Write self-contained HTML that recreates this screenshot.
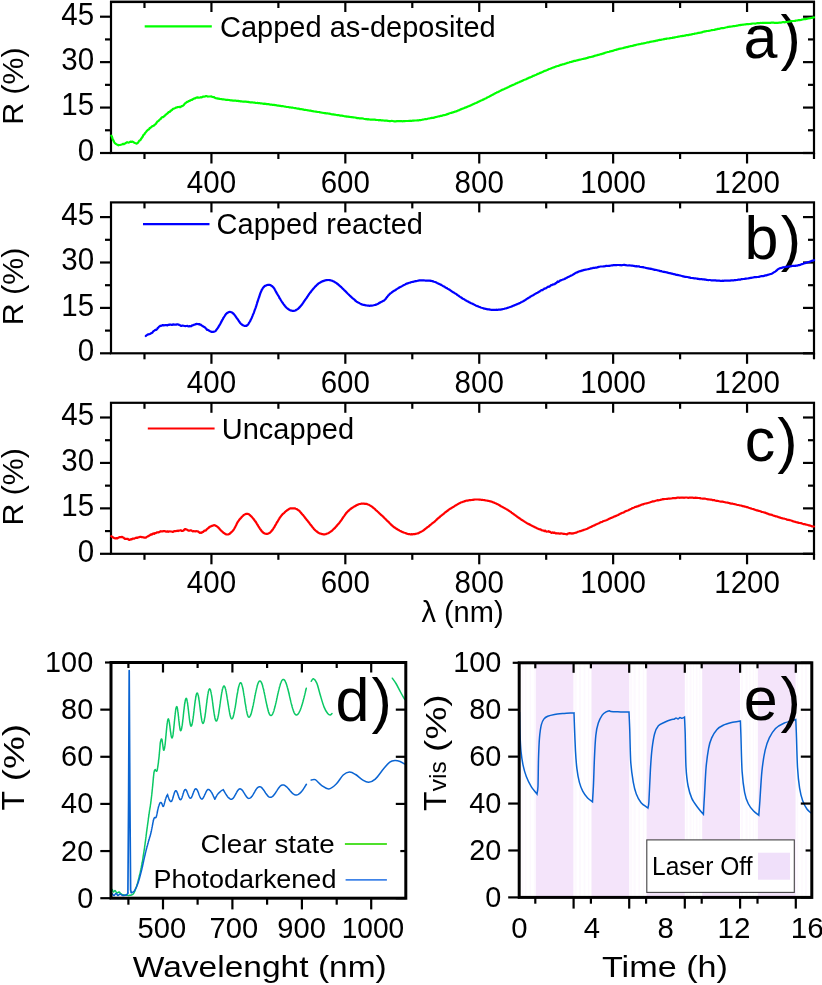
<!DOCTYPE html>
<html><head><meta charset="utf-8"><title>Figure</title>
<style>
html,body{margin:0;padding:0;background:#fff;}
body{width:822px;height:985px;overflow:hidden;}
svg{display:block;will-change:transform;}
text{font-family:"Liberation Sans",sans-serif;fill:#000;}
</style></head><body>
<svg width="822" height="985" viewBox="0 0 822 985">
<rect x="0" y="0" width="822" height="985" fill="#fff"/>
<rect x="110" y="0" width="705" height="1" fill="#a8a8a8"/>
<rect x="111.00" y="2.00" width="703.00" height="151.00" fill="none" stroke="#000" stroke-width="2.20"/>
<line x1="100.00" y1="153.00" x2="111.00" y2="153.00" stroke="#000" stroke-width="2.20" stroke-linecap="butt"/>
<line x1="803.00" y1="153.00" x2="814.00" y2="153.00" stroke="#000" stroke-width="2.20" stroke-linecap="butt"/>
<text transform="translate(94.20 160.80) scale(0.962 1)" font-size="30.68px" text-anchor="end">0</text>
<line x1="100.00" y1="107.57" x2="111.00" y2="107.57" stroke="#000" stroke-width="2.20" stroke-linecap="butt"/>
<line x1="803.00" y1="107.57" x2="814.00" y2="107.57" stroke="#000" stroke-width="2.20" stroke-linecap="butt"/>
<text transform="translate(94.20 115.37) scale(0.962 1)" font-size="30.68px" text-anchor="end">15</text>
<line x1="100.00" y1="62.13" x2="111.00" y2="62.13" stroke="#000" stroke-width="2.20" stroke-linecap="butt"/>
<line x1="803.00" y1="62.13" x2="814.00" y2="62.13" stroke="#000" stroke-width="2.20" stroke-linecap="butt"/>
<text transform="translate(94.20 69.93) scale(0.962 1)" font-size="30.68px" text-anchor="end">30</text>
<line x1="100.00" y1="16.70" x2="111.00" y2="16.70" stroke="#000" stroke-width="2.20" stroke-linecap="butt"/>
<line x1="803.00" y1="16.70" x2="814.00" y2="16.70" stroke="#000" stroke-width="2.20" stroke-linecap="butt"/>
<text transform="translate(94.20 24.50) scale(0.962 1)" font-size="30.68px" text-anchor="end">45</text>
<line x1="105.00" y1="130.28" x2="111.00" y2="130.28" stroke="#000" stroke-width="2.20" stroke-linecap="butt"/>
<line x1="808.00" y1="130.28" x2="814.00" y2="130.28" stroke="#000" stroke-width="2.20" stroke-linecap="butt"/>
<line x1="105.00" y1="84.85" x2="111.00" y2="84.85" stroke="#000" stroke-width="2.20" stroke-linecap="butt"/>
<line x1="808.00" y1="84.85" x2="814.00" y2="84.85" stroke="#000" stroke-width="2.20" stroke-linecap="butt"/>
<line x1="105.00" y1="39.42" x2="111.00" y2="39.42" stroke="#000" stroke-width="2.20" stroke-linecap="butt"/>
<line x1="808.00" y1="39.42" x2="814.00" y2="39.42" stroke="#000" stroke-width="2.20" stroke-linecap="butt"/>
<line x1="211.43" y1="153.00" x2="211.43" y2="163.50" stroke="#000" stroke-width="2.20" stroke-linecap="butt"/>
<line x1="211.43" y1="2.00" x2="211.43" y2="12.00" stroke="#000" stroke-width="2.20" stroke-linecap="butt"/>
<text transform="translate(211.43 192.50) scale(0.962 1)" font-size="30.68px" text-anchor="middle">400</text>
<line x1="345.33" y1="153.00" x2="345.33" y2="163.50" stroke="#000" stroke-width="2.20" stroke-linecap="butt"/>
<line x1="345.33" y1="2.00" x2="345.33" y2="12.00" stroke="#000" stroke-width="2.20" stroke-linecap="butt"/>
<text transform="translate(345.33 192.50) scale(0.962 1)" font-size="30.68px" text-anchor="middle">600</text>
<line x1="479.24" y1="153.00" x2="479.24" y2="163.50" stroke="#000" stroke-width="2.20" stroke-linecap="butt"/>
<line x1="479.24" y1="2.00" x2="479.24" y2="12.00" stroke="#000" stroke-width="2.20" stroke-linecap="butt"/>
<text transform="translate(479.24 192.50) scale(0.962 1)" font-size="30.68px" text-anchor="middle">800</text>
<line x1="613.14" y1="153.00" x2="613.14" y2="163.50" stroke="#000" stroke-width="2.20" stroke-linecap="butt"/>
<line x1="613.14" y1="2.00" x2="613.14" y2="12.00" stroke="#000" stroke-width="2.20" stroke-linecap="butt"/>
<text transform="translate(613.14 192.50) scale(0.962 1)" font-size="30.68px" text-anchor="middle">1000</text>
<line x1="747.05" y1="153.00" x2="747.05" y2="163.50" stroke="#000" stroke-width="2.20" stroke-linecap="butt"/>
<line x1="747.05" y1="2.00" x2="747.05" y2="12.00" stroke="#000" stroke-width="2.20" stroke-linecap="butt"/>
<text transform="translate(747.05 192.50) scale(0.962 1)" font-size="30.68px" text-anchor="middle">1200</text>
<line x1="144.48" y1="153.00" x2="144.48" y2="159.00" stroke="#000" stroke-width="2.20" stroke-linecap="butt"/>
<line x1="144.48" y1="2.00" x2="144.48" y2="8.00" stroke="#000" stroke-width="2.20" stroke-linecap="butt"/>
<line x1="278.38" y1="153.00" x2="278.38" y2="159.00" stroke="#000" stroke-width="2.20" stroke-linecap="butt"/>
<line x1="278.38" y1="2.00" x2="278.38" y2="8.00" stroke="#000" stroke-width="2.20" stroke-linecap="butt"/>
<line x1="412.29" y1="153.00" x2="412.29" y2="159.00" stroke="#000" stroke-width="2.20" stroke-linecap="butt"/>
<line x1="412.29" y1="2.00" x2="412.29" y2="8.00" stroke="#000" stroke-width="2.20" stroke-linecap="butt"/>
<line x1="546.19" y1="153.00" x2="546.19" y2="159.00" stroke="#000" stroke-width="2.20" stroke-linecap="butt"/>
<line x1="546.19" y1="2.00" x2="546.19" y2="8.00" stroke="#000" stroke-width="2.20" stroke-linecap="butt"/>
<line x1="680.10" y1="153.00" x2="680.10" y2="159.00" stroke="#000" stroke-width="2.20" stroke-linecap="butt"/>
<line x1="680.10" y1="2.00" x2="680.10" y2="8.00" stroke="#000" stroke-width="2.20" stroke-linecap="butt"/>
<line x1="814.00" y1="153.00" x2="814.00" y2="159.00" stroke="#000" stroke-width="2.20" stroke-linecap="butt"/>
<text transform="translate(22.5 86.10) rotate(-90)" font-size="30.30px" text-anchor="middle">R (%)</text>
<line x1="144.70" y1="26.30" x2="211.80" y2="26.30" stroke="#00ff00" stroke-width="2.20" stroke-linecap="butt"/>
<text x="220.00" y="36.50" font-size="29.00px" text-anchor="start" >Capped as-deposited</text>
<text x="743.40" y="57.80" font-size="61.00px" text-anchor="start" >a</text>
<text x="780.40" y="57.80" font-size="61.00px" text-anchor="start" >)</text>
<path d="M111.3 135.6L111.5 135.9L111.8 136.6L112.2 137.4L112.5 138.7L112.9 139.6L113.3 140.2L113.7 141.0L114.3 142.2L114.9 143.2L115.5 143.6L116.1 144.0L116.8 144.4L117.6 144.8L118.4 145.3L119.2 145.0L120.0 145.0L120.8 144.8L121.6 144.5L122.4 144.2L123.2 143.8L124.0 144.1L124.8 143.6L125.6 143.2L126.4 142.6L127.1 142.2L127.9 142.5L128.7 142.6L129.6 142.2L130.5 141.6L131.4 142.0L132.2 141.6L133.2 142.0L134.2 142.7L135.1 143.1L136.3 143.6L137.4 143.2L138.0 142.6L138.6 141.8L139.2 140.8L139.8 140.5L140.3 140.0L140.7 139.7L141.1 138.8L141.6 138.2L142.2 137.1L142.7 136.8L143.2 135.4L143.7 134.7L144.3 134.5L144.9 133.3L145.5 132.6L146.1 131.9L146.7 131.0L147.2 130.8L147.8 129.8L148.5 129.7L149.1 129.2L149.7 128.1L150.3 127.9L150.9 127.4L151.6 126.8L152.2 126.2L152.9 126.1L153.6 125.8L154.3 125.2L154.9 124.5L155.6 124.3L156.2 123.2L156.8 122.5L157.4 121.5L158.0 121.2L158.6 121.0L159.2 120.0L159.8 119.5L160.4 119.1L161.1 118.4L161.7 117.5L162.4 117.1L163.1 117.2L163.8 116.7L164.4 115.9L165.1 115.5L165.8 114.5L166.5 114.2L167.2 113.7L167.8 113.1L168.5 112.2L169.2 112.1L169.9 111.8L170.6 110.7L171.2 110.6L171.8 110.2L172.5 109.4L173.1 108.8L173.8 108.6L174.6 108.3L175.3 108.0L176.1 107.6L176.8 107.5L177.6 107.1L178.5 107.0L179.3 106.9L180.1 107.2L180.9 106.8L181.6 106.1L182.3 106.1L183.0 105.7L183.7 105.2L184.5 104.0L185.2 103.2L185.9 102.9L186.6 102.1L187.3 101.9L188.1 101.5L188.9 101.0L189.7 100.9L190.5 100.2L191.2 99.9L192.0 99.9L192.8 99.2L193.6 98.9L194.4 98.3L195.1 98.4L195.8 97.8L196.6 97.7L197.3 97.3L198.1 97.6L199.0 97.7L199.9 97.5L200.7 97.2L201.5 97.4L202.3 97.0L203.2 96.6L204.2 96.6L205.1 96.5L206.0 96.1L206.9 96.1L207.8 96.6L208.6 96.5L209.4 96.5L210.3 96.5L211.1 96.4L211.9 96.7L212.6 97.0L213.3 97.1L214.1 97.2L214.9 97.8L215.8 98.1L216.5 98.3L217.2 98.4L218.0 98.6L218.7 98.6L219.5 98.9L220.3 99.0L221.2 99.1L222.0 99.2L222.8 99.4L223.7 99.4L224.5 99.5L225.3 99.7L226.0 99.8L226.6 99.8L227.0 99.8L227.4 99.8L227.8 99.8L228.2 99.9L228.8 100.0L229.5 100.1L230.4 100.3L231.6 100.4L233.1 100.6L235.0 100.6L235.5 100.6L236.0 100.7L236.6 100.8L237.1 101.0L237.7 100.9L238.3 100.9L238.9 101.1L239.6 101.0L240.2 101.3L240.9 101.3L241.5 101.3L242.2 101.5L242.9 101.6L243.6 101.6L244.4 101.7L245.1 101.6L245.9 101.6L246.6 101.8L247.4 101.8L248.2 101.9L249.0 102.1L249.8 102.3L250.6 102.3L251.4 102.3L252.3 102.4L253.1 102.5L254.0 102.6L254.9 102.7L255.7 102.9L256.6 103.0L257.5 102.9L258.4 103.2L259.3 103.1L260.2 103.3L261.1 103.3L262.0 103.5L262.9 103.6L263.9 103.8L264.8 103.7L265.7 103.8L266.7 104.1L267.6 104.0L268.6 104.1L269.5 104.4L270.5 104.6L271.4 104.6L272.3 104.8L273.3 104.9L274.2 104.9L275.2 105.2L275.9 105.2L276.6 105.3L277.3 105.5L278.0 105.7L278.8 105.6L279.5 105.8L280.3 105.8L281.0 106.1L281.8 106.0L282.6 106.1L283.4 106.3L284.2 106.5L285.0 106.6L285.8 106.8L286.6 107.0L287.4 107.0L288.3 107.0L289.1 107.3L289.9 107.3L290.8 107.5L291.6 107.6L292.5 107.6L293.3 107.8L294.2 108.0L295.1 108.2L295.9 108.2L296.8 108.5L297.6 108.6L298.5 108.6L299.4 108.9L300.2 109.2L301.1 109.1L302.0 109.3L302.9 109.4L303.7 109.7L304.6 109.9L305.5 109.9L306.3 110.0L307.2 110.2L308.0 110.3L308.9 110.5L309.7 110.7L310.6 110.6L311.4 111.0L312.3 111.1L313.1 111.2L313.9 111.4L314.7 111.5L315.6 111.6L316.4 111.7L317.2 111.9L318.0 112.0L318.7 112.0L319.5 112.1L320.3 112.4L321.1 112.5L321.8 112.6L322.5 112.8L323.3 113.0L324.0 112.9L324.7 113.2L325.4 113.1L326.1 113.4L326.8 113.4L327.5 113.4L328.1 113.5L328.8 113.6L329.4 113.7L330.0 113.8L331.2 114.1L332.3 114.3L333.4 114.4L334.4 114.7L335.4 114.7L336.5 115.0L337.4 115.1L338.4 115.1L339.3 115.3L340.2 115.6L341.1 115.6L342.0 115.7L342.8 115.8L343.6 116.0L344.4 116.2L345.2 116.4L346.0 116.4L346.8 116.6L347.5 116.7L348.2 116.7L349.0 116.8L349.7 116.9L350.4 117.0L351.1 117.1L351.8 117.1L352.4 117.2L353.1 117.3L353.8 117.4L354.5 117.5L355.1 117.5L355.8 117.7L356.5 117.9L357.2 118.1L357.8 118.1L358.5 118.0L359.2 118.3L360.2 118.3L361.1 118.3L362.1 118.4L363.0 118.5L363.8 118.8L364.7 119.0L365.6 119.1L366.4 119.2L367.2 119.3L368.0 119.2L368.8 119.3L369.6 119.5L370.3 119.6L371.1 119.7L371.9 119.6L372.6 119.6L373.4 119.6L374.1 119.7L374.9 119.7L375.7 119.8L376.4 120.0L377.2 120.0L378.0 120.0L378.8 120.3L379.6 120.2L380.4 120.2L381.2 120.3L382.0 120.3L382.9 120.4L383.7 120.5L384.5 120.7L385.3 120.6L386.1 120.7L386.9 120.7L387.8 120.8L388.6 121.0L389.4 121.1L390.2 121.1L391.0 121.0L391.8 120.9L392.6 121.0L393.5 121.2L394.3 121.3L395.1 121.4L395.9 121.3L396.7 121.2L397.5 121.1L398.4 121.1L399.2 121.1L400.0 121.2L400.8 121.1L401.6 121.1L402.5 121.3L403.3 121.2L404.1 121.1L404.9 121.1L405.7 121.0L406.6 121.0L407.4 121.0L408.2 121.0L409.0 120.9L409.8 120.9L410.7 120.7L411.5 120.9L412.3 120.7L413.1 120.7L413.9 120.6L414.8 120.5L415.6 120.5L416.4 120.5L417.2 120.4L418.0 120.3L418.9 120.3L419.7 120.1L420.5 120.1L421.3 120.0L422.1 119.8L422.9 119.6L423.7 119.5L424.5 119.3L425.3 119.1L426.1 119.2L426.9 119.0L427.7 118.7L428.5 118.5L429.3 118.5L430.1 118.3L430.9 118.1L431.7 117.9L432.5 117.8L433.3 117.8L434.1 117.7L434.9 117.3L435.7 117.1L436.5 117.0L437.2 116.7L438.0 116.5L438.8 116.4L439.5 116.3L440.3 115.9L441.0 115.8L441.9 115.8L442.7 115.4L443.5 115.2L444.3 115.1L445.1 115.0L445.9 114.7L446.7 114.4L447.5 114.1L448.2 113.9L449.0 113.5L449.8 113.2L450.5 113.0L451.3 112.9L452.0 112.6L452.8 112.4L453.6 112.1L454.4 112.0L455.2 111.5L456.0 111.4L456.8 111.1L457.6 110.8L458.5 110.3L459.2 110.2L459.9 109.8L460.6 109.4L461.4 109.1L462.1 108.9L462.8 108.5L463.6 108.4L464.3 108.0L465.1 107.6L465.8 107.4L466.6 107.1L467.4 106.8L468.1 106.3L468.9 106.1L469.7 105.8L470.4 105.6L471.2 105.1L472.0 104.8L472.8 104.3L473.5 104.1L474.3 103.7L475.1 103.3L475.9 103.0L476.6 102.7L477.4 102.4L478.1 101.9L478.9 101.7L479.6 101.2L480.4 100.9L481.1 100.5L481.8 100.3L482.5 99.9L483.3 99.6L484.0 99.2L484.7 98.8L485.5 98.5L486.2 98.2L486.9 97.7L487.6 97.3L488.4 97.0L489.1 96.7L489.8 96.2L490.6 95.9L491.3 95.4L492.0 95.1L492.7 94.8L493.5 94.3L494.2 93.8L494.9 93.5L495.7 93.0L496.4 92.7L497.1 92.3L497.8 92.1L498.6 91.8L499.3 91.3L500.0 91.0L500.8 90.6L501.5 90.2L502.2 89.8L503.0 89.6L503.7 89.2L504.4 88.9L505.2 88.5L505.9 88.2L506.6 87.9L507.4 87.5L508.1 87.2L508.8 86.9L509.5 86.5L510.3 86.1L511.0 85.9L511.7 85.5L512.5 85.1L513.2 84.9L513.9 84.6L514.7 84.2L515.4 83.8L516.1 83.4L516.9 83.2L517.6 82.8L518.3 82.5L519.1 82.2L519.8 81.8L520.6 81.6L521.3 81.2L522.1 80.9L522.9 80.5L523.7 80.0L524.5 79.8L525.3 79.5L526.1 79.2L526.9 78.7L527.7 78.4L528.5 78.0L529.4 77.6L530.2 77.4L530.9 77.1L531.7 76.7L532.5 76.2L533.3 75.8L534.0 75.7L534.8 75.2L535.5 75.0L536.3 74.7L537.0 74.3L537.6 73.9L538.3 73.8L539.0 73.5L539.6 73.1L540.2 72.9L541.2 72.6L542.1 72.1L543.0 71.8L543.8 71.3L544.5 70.9L545.2 70.8L545.9 70.6L546.5 70.2L547.2 70.0L547.8 69.7L548.5 69.3L549.3 69.0L550.1 68.8L551.0 68.4L551.9 68.0L552.6 67.8L553.2 67.5L553.9 67.4L554.6 67.1L555.3 66.8L556.1 66.4L556.8 66.2L557.6 66.0L558.3 65.9L559.1 65.6L559.9 65.2L560.7 64.9L561.5 64.8L562.3 64.4L563.2 64.3L564.0 64.1L564.8 63.8L565.7 63.6L566.5 63.2L567.4 62.9L568.3 62.7L569.1 62.5L570.0 62.1L570.7 62.0L571.4 61.9L572.1 61.6L572.8 61.4L573.6 61.1L574.3 60.9L575.0 60.9L575.7 60.8L576.4 60.5L577.1 60.3L577.9 60.2L578.6 59.9L579.3 59.8L580.1 59.6L580.8 59.5L581.6 59.3L582.4 59.0L583.2 58.9L584.0 58.7L584.8 58.6L585.6 58.4L586.5 58.1L587.3 57.9L588.2 57.6L589.1 57.3L590.0 57.1L590.9 57.0L591.9 56.7L592.6 56.7L593.2 56.4L593.9 56.1L594.6 55.9L595.3 55.6L596.0 55.5L596.8 55.4L597.5 55.1L598.2 54.8L599.0 54.8L599.7 54.5L600.5 54.2L601.3 54.2L602.1 53.8L602.8 53.7L603.6 53.4L604.4 53.1L605.2 52.8L606.0 52.5L606.8 52.3L607.6 52.0L608.4 52.0L609.3 51.7L610.1 51.4L610.9 51.2L611.7 51.1L612.5 50.9L613.3 50.7L614.2 50.3L615.0 50.0L615.8 49.9L616.6 49.6L617.4 49.4L618.2 49.2L619.0 48.9L619.8 48.7L620.6 48.6L621.4 48.5L622.2 48.3L623.0 48.1L623.8 47.8L624.6 47.7L625.4 47.4L626.2 47.2L627.0 47.1L627.8 46.9L628.6 46.6L629.4 46.5L630.2 46.2L631.0 46.1L631.8 46.0L632.5 45.8L633.3 45.7L634.1 45.3L634.9 45.2L635.7 45.1L636.5 44.7L637.3 44.5L638.1 44.4L638.9 44.2L639.7 44.2L640.5 44.0L641.3 43.7L642.1 43.6L642.9 43.5L643.7 43.3L644.5 43.2L645.3 43.0L646.1 42.8L646.9 42.5L647.6 42.4L648.4 42.4L649.2 42.2L650.0 41.9L650.8 41.7L651.6 41.6L652.4 41.5L653.2 41.3L654.0 41.2L654.8 41.1L655.6 40.8L656.4 40.7L657.2 40.6L658.0 40.3L658.8 40.1L659.6 39.9L660.4 39.8L661.2 39.8L662.0 39.5L662.8 39.5L663.6 39.2L664.4 39.1L665.2 38.9L666.0 38.9L666.8 38.6L667.6 38.5L668.4 38.5L669.2 38.4L669.9 38.2L670.7 38.1L671.5 38.0L672.3 37.9L673.1 37.6L673.9 37.6L674.7 37.4L675.5 37.2L676.3 37.0L677.1 37.0L677.9 36.7L678.7 36.6L679.5 36.5L680.3 36.3L681.1 36.1L681.9 36.1L682.7 35.9L683.5 35.9L684.3 35.7L685.1 35.6L685.9 35.3L686.7 35.1L687.5 35.1L688.3 35.1L689.1 34.8L689.9 34.7L690.7 34.6L691.6 34.4L692.4 34.1L693.2 34.0L694.0 33.9L694.9 33.6L695.7 33.5L696.5 33.4L697.4 33.2L698.2 32.9L699.0 32.9L699.9 32.7L700.7 32.6L701.6 32.4L702.4 32.1L703.2 31.8L704.0 31.6L704.9 31.4L705.7 31.3L706.5 31.1L707.3 31.0L708.1 31.0L708.9 30.8L709.7 30.7L710.5 30.5L711.3 30.2L712.1 30.1L712.9 30.0L713.6 30.0L714.4 29.9L715.1 29.6L715.9 29.4L716.6 29.3L717.3 29.1L718.0 28.9L718.7 28.9L719.4 28.8L720.4 28.4L721.3 28.2L722.2 28.2L723.1 28.1L724.0 28.0L724.9 27.7L725.7 27.5L726.6 27.3L727.4 27.1L728.2 26.9L729.0 26.8L729.8 26.7L730.6 26.7L731.4 26.5L732.1 26.4L732.9 26.2L733.6 26.0L734.4 26.1L735.1 26.0L735.8 25.9L736.6 25.7L737.3 25.6L738.0 25.5L738.8 25.2L739.5 25.1L740.2 25.1L741.0 24.9L741.7 24.9L742.6 24.7L743.5 24.7L744.3 24.5L745.2 24.4L746.1 24.3L746.9 24.1L747.7 24.2L748.6 24.2L749.4 24.0L750.2 24.0L751.0 23.8L751.8 23.7L752.7 23.5L753.5 23.5L754.3 23.5L755.1 23.6L755.9 23.5L756.7 23.3L757.5 23.1L758.3 23.1L759.1 23.1L760.0 23.0L760.8 22.9L761.6 23.0L762.4 22.9L763.2 22.9L764.0 22.8L764.8 22.8L765.6 22.8L766.4 22.8L767.2 22.9L768.0 22.8L768.8 22.9L769.6 22.8L770.4 22.8L771.2 22.7L772.0 22.7L772.8 22.7L773.6 22.7L774.4 22.8L775.2 22.9L776.0 22.9L776.8 22.8L777.6 22.8L778.4 22.8L779.2 22.6L780.0 22.7L780.8 22.6L781.7 22.4L782.5 22.2L783.4 22.1L784.2 22.3L785.1 22.2L785.9 22.1L786.8 22.0L787.6 21.9L788.5 21.7L789.3 21.6L790.2 21.5L791.0 21.2L791.9 21.1L792.7 21.0L793.5 21.0L794.3 21.0L795.1 20.9L795.9 20.5L796.7 20.5L797.5 20.4L798.3 20.2L799.0 20.2L799.9 20.1L800.8 20.0L801.7 19.7L802.7 19.5L803.6 19.2L804.5 19.1L805.5 19.1L806.4 19.0L807.3 18.7L808.1 18.5L808.9 18.4L809.7 18.2L810.5 18.1L811.2 18.0L811.9 17.9L812.5 17.6L813.1 17.5L813.6 17.5L814.0 17.4" fill="none" stroke="#00ff00" stroke-width="2.20" stroke-linejoin="round" stroke-linecap="round" />
<rect x="111.00" y="202.40" width="703.00" height="150.90" fill="none" stroke="#000" stroke-width="2.20"/>
<line x1="100.00" y1="353.30" x2="111.00" y2="353.30" stroke="#000" stroke-width="2.20" stroke-linecap="butt"/>
<line x1="803.00" y1="353.30" x2="814.00" y2="353.30" stroke="#000" stroke-width="2.20" stroke-linecap="butt"/>
<text transform="translate(94.20 361.10) scale(0.962 1)" font-size="30.68px" text-anchor="end">0</text>
<line x1="100.00" y1="307.90" x2="111.00" y2="307.90" stroke="#000" stroke-width="2.20" stroke-linecap="butt"/>
<line x1="803.00" y1="307.90" x2="814.00" y2="307.90" stroke="#000" stroke-width="2.20" stroke-linecap="butt"/>
<text transform="translate(94.20 315.70) scale(0.962 1)" font-size="30.68px" text-anchor="end">15</text>
<line x1="100.00" y1="262.50" x2="111.00" y2="262.50" stroke="#000" stroke-width="2.20" stroke-linecap="butt"/>
<line x1="803.00" y1="262.50" x2="814.00" y2="262.50" stroke="#000" stroke-width="2.20" stroke-linecap="butt"/>
<text transform="translate(94.20 270.30) scale(0.962 1)" font-size="30.68px" text-anchor="end">30</text>
<line x1="100.00" y1="217.10" x2="111.00" y2="217.10" stroke="#000" stroke-width="2.20" stroke-linecap="butt"/>
<line x1="803.00" y1="217.10" x2="814.00" y2="217.10" stroke="#000" stroke-width="2.20" stroke-linecap="butt"/>
<text transform="translate(94.20 224.90) scale(0.962 1)" font-size="30.68px" text-anchor="end">45</text>
<line x1="105.00" y1="330.60" x2="111.00" y2="330.60" stroke="#000" stroke-width="2.20" stroke-linecap="butt"/>
<line x1="808.00" y1="330.60" x2="814.00" y2="330.60" stroke="#000" stroke-width="2.20" stroke-linecap="butt"/>
<line x1="105.00" y1="285.20" x2="111.00" y2="285.20" stroke="#000" stroke-width="2.20" stroke-linecap="butt"/>
<line x1="808.00" y1="285.20" x2="814.00" y2="285.20" stroke="#000" stroke-width="2.20" stroke-linecap="butt"/>
<line x1="105.00" y1="239.80" x2="111.00" y2="239.80" stroke="#000" stroke-width="2.20" stroke-linecap="butt"/>
<line x1="808.00" y1="239.80" x2="814.00" y2="239.80" stroke="#000" stroke-width="2.20" stroke-linecap="butt"/>
<line x1="211.43" y1="353.30" x2="211.43" y2="363.80" stroke="#000" stroke-width="2.20" stroke-linecap="butt"/>
<line x1="211.43" y1="202.40" x2="211.43" y2="212.40" stroke="#000" stroke-width="2.20" stroke-linecap="butt"/>
<text transform="translate(211.43 392.80) scale(0.962 1)" font-size="30.68px" text-anchor="middle">400</text>
<line x1="345.33" y1="353.30" x2="345.33" y2="363.80" stroke="#000" stroke-width="2.20" stroke-linecap="butt"/>
<line x1="345.33" y1="202.40" x2="345.33" y2="212.40" stroke="#000" stroke-width="2.20" stroke-linecap="butt"/>
<text transform="translate(345.33 392.80) scale(0.962 1)" font-size="30.68px" text-anchor="middle">600</text>
<line x1="479.24" y1="353.30" x2="479.24" y2="363.80" stroke="#000" stroke-width="2.20" stroke-linecap="butt"/>
<line x1="479.24" y1="202.40" x2="479.24" y2="212.40" stroke="#000" stroke-width="2.20" stroke-linecap="butt"/>
<text transform="translate(479.24 392.80) scale(0.962 1)" font-size="30.68px" text-anchor="middle">800</text>
<line x1="613.14" y1="353.30" x2="613.14" y2="363.80" stroke="#000" stroke-width="2.20" stroke-linecap="butt"/>
<line x1="613.14" y1="202.40" x2="613.14" y2="212.40" stroke="#000" stroke-width="2.20" stroke-linecap="butt"/>
<text transform="translate(613.14 392.80) scale(0.962 1)" font-size="30.68px" text-anchor="middle">1000</text>
<line x1="747.05" y1="353.30" x2="747.05" y2="363.80" stroke="#000" stroke-width="2.20" stroke-linecap="butt"/>
<line x1="747.05" y1="202.40" x2="747.05" y2="212.40" stroke="#000" stroke-width="2.20" stroke-linecap="butt"/>
<text transform="translate(747.05 392.80) scale(0.962 1)" font-size="30.68px" text-anchor="middle">1200</text>
<line x1="144.48" y1="353.30" x2="144.48" y2="359.30" stroke="#000" stroke-width="2.20" stroke-linecap="butt"/>
<line x1="144.48" y1="202.40" x2="144.48" y2="208.40" stroke="#000" stroke-width="2.20" stroke-linecap="butt"/>
<line x1="278.38" y1="353.30" x2="278.38" y2="359.30" stroke="#000" stroke-width="2.20" stroke-linecap="butt"/>
<line x1="278.38" y1="202.40" x2="278.38" y2="208.40" stroke="#000" stroke-width="2.20" stroke-linecap="butt"/>
<line x1="412.29" y1="353.30" x2="412.29" y2="359.30" stroke="#000" stroke-width="2.20" stroke-linecap="butt"/>
<line x1="412.29" y1="202.40" x2="412.29" y2="208.40" stroke="#000" stroke-width="2.20" stroke-linecap="butt"/>
<line x1="546.19" y1="353.30" x2="546.19" y2="359.30" stroke="#000" stroke-width="2.20" stroke-linecap="butt"/>
<line x1="546.19" y1="202.40" x2="546.19" y2="208.40" stroke="#000" stroke-width="2.20" stroke-linecap="butt"/>
<line x1="680.10" y1="353.30" x2="680.10" y2="359.30" stroke="#000" stroke-width="2.20" stroke-linecap="butt"/>
<line x1="680.10" y1="202.40" x2="680.10" y2="208.40" stroke="#000" stroke-width="2.20" stroke-linecap="butt"/>
<line x1="814.00" y1="353.30" x2="814.00" y2="359.30" stroke="#000" stroke-width="2.20" stroke-linecap="butt"/>
<text transform="translate(22.5 286.45) rotate(-90)" font-size="30.30px" text-anchor="middle">R (%)</text>
<line x1="143.00" y1="224.20" x2="209.50" y2="224.20" stroke="#0000ff" stroke-width="2.20" stroke-linecap="butt"/>
<text x="216.60" y="234.40" font-size="29.00px" text-anchor="start" >Capped reacted</text>
<text x="744.40" y="259.40" font-size="61.00px" text-anchor="start" >b</text>
<text x="780.80" y="259.40" font-size="61.00px" text-anchor="start" >)</text>
<path d="M145.8 336.0L146.2 335.6L146.8 335.2L147.6 334.6L148.4 334.3L149.2 334.2L150.0 334.0L150.8 333.3L151.5 333.1L152.2 332.8L152.9 331.8L153.7 331.0L154.4 330.6L155.1 330.0L155.8 329.7L156.4 329.9L157.1 329.1L157.7 328.0L158.3 327.7L158.9 326.7L159.5 326.5L160.3 325.7L161.1 325.9L161.9 325.4L162.8 325.0L163.7 325.5L164.7 325.2L165.6 325.1L166.6 325.0L167.4 325.4L168.1 324.8L168.9 325.0L169.7 324.5L170.6 324.5L171.4 324.8L172.2 324.9L173.0 324.3L173.8 324.7L174.6 324.5L175.4 324.7L176.2 324.6L177.0 324.4L177.7 324.4L178.5 324.5L179.3 325.0L180.1 325.3L180.9 325.8L181.8 325.8L182.7 325.5L183.6 325.7L184.5 326.0L185.4 326.1L186.3 326.0L187.2 325.9L188.0 326.2L188.8 326.4L189.7 326.1L190.5 326.3L191.3 326.1L192.1 325.3L192.8 325.4L193.6 324.9L194.3 324.7L195.2 324.4L196.0 324.1L196.8 323.9L197.6 324.0L198.4 324.3L199.1 324.0L199.9 324.6L200.7 324.7L201.5 325.4L202.2 325.8L203.0 326.3L203.7 326.7L204.4 327.1L205.0 327.4L205.7 328.2L206.4 328.9L207.0 329.8L207.9 329.9L208.7 330.3L209.5 331.0L210.2 331.2L211.3 331.8L212.5 331.9L213.2 331.8L214.0 331.7L214.8 331.5L215.7 330.8L216.2 330.2L216.6 329.5L217.1 329.0L217.7 328.1L218.2 327.4L218.7 326.4L219.2 325.6L219.7 324.8L220.1 324.2L220.5 323.5L220.9 322.6L221.3 321.9L221.7 321.1L222.1 320.4L222.5 319.6L222.9 319.1L223.2 318.3L223.6 317.8L224.2 316.8L224.7 316.0L225.2 315.1L225.8 314.3L226.3 313.7L226.8 313.2L227.6 312.7L228.4 312.4L229.1 312.0L229.9 311.9L230.7 312.0L231.4 312.3L232.2 312.6L233.1 313.4L233.6 313.9L234.0 314.3L234.5 314.9L235.1 315.7L235.6 316.4L236.1 317.1L236.6 317.9L237.1 318.5L237.6 319.2L238.1 319.9L238.6 320.6L239.1 321.4L239.5 322.0L240.0 322.7L240.5 323.3L241.0 323.8L241.8 324.5L242.6 325.0L243.5 325.5L244.3 325.8L245.0 325.9L245.8 325.9L246.5 325.8L247.3 325.3L248.1 324.4L248.5 323.9L248.8 323.3L249.2 322.6L249.6 322.0L250.1 321.2L250.5 320.4L250.9 319.4L251.3 318.7L251.7 317.9L252.1 316.9L252.4 316.2L252.7 315.4L253.0 314.5L253.4 313.8L253.7 313.1L254.0 312.2L254.3 311.4L254.6 310.5L254.9 309.6L255.2 308.9L255.5 308.1L255.8 307.3L256.0 306.6L256.4 305.6L256.6 304.6L256.9 303.8L257.1 303.0L257.4 302.2L257.6 301.5L257.9 300.8L258.2 299.7L258.4 299.0L258.7 298.1L259.0 297.5L259.3 296.7L259.5 295.8L259.8 295.0L260.1 294.0L260.4 293.2L260.7 292.4L261.0 291.7L261.3 291.0L261.7 290.0L262.2 289.4L262.6 288.5L263.0 287.9L263.5 287.3L264.0 286.9L264.5 286.3L265.3 285.8L266.2 285.4L267.1 285.0L268.0 284.9L268.9 284.8L269.6 284.9L270.3 285.0L271.0 285.5L271.7 285.9L272.5 286.5L273.2 287.2L273.6 287.6L274.0 288.2L274.5 288.9L274.9 289.7L275.3 290.4L275.7 291.3L276.2 292.1L276.6 292.9L277.0 293.6L277.5 294.3L277.9 295.1L278.3 295.7L278.8 296.5L279.2 297.3L279.6 298.2L280.1 298.8L280.5 299.5L281.0 300.3L281.4 301.0L281.8 301.6L282.3 302.3L282.7 302.9L283.2 303.7L283.7 304.4L284.2 305.0L284.7 305.7L285.3 306.3L285.8 307.0L286.3 307.5L286.8 308.0L287.4 308.5L288.2 309.0L288.9 309.6L289.7 310.0L290.6 310.4L291.4 310.6L292.2 310.8L293.0 310.8L293.8 310.9L294.6 310.7L295.4 310.5L296.1 310.0L296.9 309.6L297.7 309.1L298.5 308.4L299.0 307.9L299.5 307.4L300.0 306.9L300.5 306.3L301.0 305.6L301.6 305.0L302.1 304.3L302.6 303.6L303.1 302.9L303.6 302.1L304.1 301.4L304.6 300.7L305.0 300.0L305.5 299.3L305.9 298.7L306.4 298.2L306.9 297.5L307.3 296.7L307.8 296.1L308.2 295.4L308.7 294.8L309.1 294.0L309.6 293.4L310.1 292.7L310.7 292.1L311.2 291.3L311.8 290.5L312.3 290.0L312.9 289.2L313.4 288.6L314.0 288.0L314.5 287.4L315.1 286.7L315.7 286.2L316.3 285.6L316.9 284.9L317.5 284.5L318.1 283.9L318.7 283.3L319.4 283.0L320.0 282.6L320.7 282.2L321.4 281.8L322.2 281.4L323.0 281.1L323.8 280.9L324.6 280.5L325.4 280.3L326.2 280.2L327.0 280.1L327.8 280.0L328.6 280.0L329.4 280.1L330.2 280.2L331.0 280.5L331.8 280.6L332.5 280.9L333.3 281.3L334.1 281.6L334.8 282.1L335.5 282.6L336.2 282.9L336.9 283.5L337.6 284.0L338.3 284.5L339.0 285.2L339.7 285.8L340.4 286.5L341.0 286.9L341.6 287.5L342.1 288.0L342.7 288.6L343.3 289.1L343.9 289.8L344.5 290.4L345.1 290.9L345.6 291.4L346.2 292.1L346.8 292.6L347.4 293.3L348.1 294.0L348.7 294.5L349.3 295.1L350.0 295.9L350.6 296.4L351.2 296.9L351.8 297.5L352.5 298.2L353.1 298.7L353.8 299.2L354.5 299.7L355.2 300.5L355.9 301.0L356.6 301.6L357.3 302.1L358.0 302.4L358.7 302.8L359.4 303.1L360.2 303.6L361.1 304.1L361.9 304.4L362.8 304.7L363.6 304.9L364.4 304.9L365.1 305.2L365.8 305.3L366.9 305.5L367.8 305.6L368.7 305.7L369.7 305.8L370.4 305.7L371.2 305.7L372.0 305.6L372.8 305.5L373.7 305.3L374.5 305.0L375.3 304.9L376.1 304.6L376.9 304.3L377.7 303.9L378.5 303.5L379.3 302.9L380.1 302.6L380.8 302.1L381.6 301.8L382.3 301.4L382.9 301.1L383.6 300.8L384.3 300.3L385.1 299.5L385.6 299.0L386.0 298.5L386.4 297.9L386.9 297.3L387.3 296.7L387.8 296.1L388.3 295.4L389.0 294.8L389.6 294.1L390.4 293.4L391.3 292.8L391.8 292.4L392.4 291.9L393.0 291.5L393.6 291.1L394.3 290.8L394.9 290.3L395.7 290.0L396.4 289.3L397.1 288.9L397.9 288.4L398.6 288.0L399.4 287.4L400.2 287.0L400.9 286.7L401.7 286.3L402.4 285.9L403.2 285.4L403.9 285.1L404.6 284.8L405.3 284.4L405.9 284.0L406.8 283.6L407.6 283.4L408.5 283.0L409.3 282.8L410.1 282.6L410.9 282.3L411.7 282.0L412.5 281.9L413.3 281.8L414.0 281.5L414.8 281.4L415.5 281.1L416.2 281.1L416.9 281.0L417.6 280.8L418.5 280.6L419.4 280.4L420.2 280.4L421.0 280.3L421.8 280.3L422.6 280.4L423.3 280.3L424.1 280.4L424.8 280.5L425.6 280.6L426.4 280.6L427.2 280.6L427.9 280.6L428.6 280.7L429.3 280.6L430.0 280.8L430.8 280.7L431.5 280.9L432.3 281.1L433.2 281.4L434.1 281.7L435.1 282.0L435.7 282.2L436.3 282.5L437.0 282.9L437.6 283.2L438.3 283.6L439.0 283.9L439.8 284.2L440.5 284.6L441.3 284.9L442.0 285.4L442.8 285.9L443.6 286.3L444.4 286.7L445.1 287.2L445.9 287.7L446.7 288.0L447.5 288.6L448.2 289.0L449.0 289.4L449.7 289.8L450.4 290.3L451.1 290.8L451.8 291.3L452.5 291.8L453.2 292.3L453.9 292.6L454.6 293.1L455.3 293.5L456.0 293.9L456.7 294.4L457.3 295.0L458.0 295.4L458.7 295.8L459.4 296.4L460.1 296.9L460.8 297.3L461.5 297.7L462.2 298.3L462.9 298.7L463.6 299.0L464.3 299.4L465.0 299.9L465.8 300.3L466.5 300.8L467.3 301.2L468.1 301.5L468.8 302.0L469.6 302.4L470.4 302.8L471.1 303.2L471.9 303.5L472.6 303.8L473.4 304.3L474.1 304.6L474.8 304.9L475.6 305.4L476.3 305.7L476.9 305.9L477.6 306.2L478.3 306.4L478.9 306.7L479.8 307.1L480.7 307.5L481.6 307.8L482.5 308.0L483.3 308.3L484.1 308.6L484.8 308.7L485.6 308.8L486.3 309.1L487.0 309.2L487.7 309.3L488.4 309.4L489.1 309.4L490.0 309.6L490.9 309.8L491.7 309.9L492.5 309.8L493.2 309.9L494.0 309.9L494.7 309.8L495.5 309.9L496.4 309.7L497.1 309.8L497.8 309.8L498.5 309.7L499.2 309.6L500.0 309.6L500.7 309.6L501.5 309.3L502.3 309.3L503.2 309.0L504.2 308.8L505.2 308.5L505.8 308.5L506.5 308.2L507.2 307.9L507.9 307.8L508.6 307.5L509.4 307.3L510.2 307.0L510.9 306.8L511.7 306.4L512.5 306.1L513.4 305.7L514.2 305.4L515.0 305.0L515.8 304.7L516.6 304.4L517.4 304.0L518.2 303.7L519.0 303.4L519.8 303.0L520.5 302.7L521.2 302.2L521.9 301.9L522.6 301.5L523.3 301.2L524.1 300.7L524.8 300.3L525.5 299.9L526.2 299.3L526.9 298.8L527.6 298.5L528.4 297.9L529.1 297.6L529.8 297.2L530.4 296.6L531.1 296.3L531.8 295.9L532.5 295.5L533.1 295.2L533.8 294.8L534.4 294.4L535.2 293.9L536.0 293.4L536.8 293.0L537.5 292.7L538.2 292.3L539.0 291.8L539.7 291.5L540.4 290.8L541.1 290.3L541.8 290.0L542.5 290.2L543.2 289.4L543.9 289.0L544.6 288.5L545.3 288.4L546.0 288.4L546.7 287.6L547.5 287.2L548.2 286.6L548.9 286.8L549.6 286.6L550.4 285.7L551.1 285.0L551.8 285.2L552.6 284.6L553.3 284.4L554.0 284.3L554.8 284.1L555.5 283.1L556.2 283.2L557.0 282.3L557.7 281.5L558.4 281.9L559.2 281.3L560.0 280.6L560.7 280.4L561.5 280.0L562.3 279.8L563.0 279.5L563.8 279.2L564.5 278.9L565.3 278.6L566.1 278.1L566.8 277.8L567.5 277.3L568.2 277.0L568.9 276.7L569.6 276.3L570.4 276.0L571.2 275.5L571.9 275.3L572.6 274.9L573.3 274.4L574.0 274.1L574.6 273.6L575.3 273.1L576.0 272.7L576.7 272.4L577.5 272.3L578.3 271.8L579.1 271.4L579.8 271.2L580.5 271.2L581.3 270.7L582.0 270.6L582.8 270.4L583.5 270.1L584.3 269.9L585.1 269.8L585.9 269.6L586.7 269.5L587.6 269.3L588.4 269.1L589.3 268.9L590.1 268.7L591.0 268.4L591.9 268.3L592.6 268.1L593.4 267.8L594.1 267.9L594.9 267.8L595.7 267.6L596.4 267.6L597.2 267.4L598.0 267.1L598.8 266.9L599.6 266.7L600.5 266.5L601.3 266.5L602.1 266.5L602.9 266.5L603.7 266.3L604.6 266.3L605.4 266.1L606.2 265.9L607.0 265.9L607.8 266.0L608.6 265.9L609.4 265.8L610.2 265.7L611.0 265.5L611.8 265.4L612.6 265.3L613.4 265.2L614.2 265.2L615.0 265.1L615.8 265.2L616.6 265.1L617.4 265.0L618.2 265.0L619.0 265.0L619.8 265.1L620.6 265.2L621.4 265.3L622.2 265.1L623.0 265.0L623.8 264.9L624.6 264.9L625.5 265.2L626.3 265.2L627.2 265.4L628.0 265.5L628.8 265.4L629.7 265.3L630.5 265.5L631.3 265.7L632.2 265.6L633.0 265.8L633.8 265.9L634.7 266.1L635.5 266.3L636.4 266.2L637.2 266.3L638.0 266.3L638.9 266.3L639.7 266.7L640.5 267.0L641.3 267.0L642.1 267.2L642.9 267.1L643.7 267.4L644.5 267.5L645.3 267.7L646.1 268.0L646.8 268.1L647.6 268.3L648.4 268.4L649.2 268.6L650.0 268.6L650.8 268.9L651.6 268.9L652.4 269.2L653.2 269.4L654.0 269.6L654.8 269.9L655.6 269.8L656.4 270.0L657.2 270.2L658.0 270.4L658.8 270.5L659.6 270.9L660.4 271.1L661.2 271.1L662.0 271.5L662.8 271.7L663.6 271.8L664.4 271.9L665.2 272.1L666.0 272.2L666.8 272.4L667.6 272.6L668.4 273.0L669.2 273.1L670.0 273.2L670.8 273.3L671.6 273.7L672.4 273.7L673.2 274.1L674.0 274.1L674.8 274.3L675.6 274.7L676.4 274.8L677.2 274.8L678.0 275.1L678.8 275.2L679.6 275.4L680.4 275.5L681.1 275.8L681.9 276.0L682.7 276.3L683.5 276.4L684.3 276.7L685.1 276.8L685.9 276.8L686.7 277.0L687.5 277.0L688.3 277.3L689.1 277.4L689.9 277.6L690.7 277.9L691.5 278.0L692.3 278.0L693.1 278.1L693.9 278.3L694.6 278.4L695.4 278.4L696.2 278.5L697.0 278.6L697.8 278.9L698.6 278.9L699.4 279.1L700.2 279.0L701.0 279.2L701.8 279.2L702.6 279.3L703.4 279.4L704.2 279.4L705.0 279.7L705.8 279.7L706.6 279.8L707.5 280.0L708.3 280.2L709.1 280.0L710.0 280.0L710.8 280.2L711.6 280.4L712.4 280.4L713.2 280.3L714.0 280.3L714.8 280.3L715.6 280.4L716.4 280.6L717.2 280.6L717.9 280.7L718.7 280.7L719.4 280.7L720.3 280.8L721.2 280.8L722.0 280.8L722.9 280.7L723.6 280.8L724.4 280.7L725.2 280.7L725.9 280.7L726.7 280.6L727.5 280.5L728.3 280.6L729.2 280.6L730.1 280.6L731.1 280.4L732.1 280.3L732.8 280.3L733.5 280.4L734.2 280.2L734.9 280.1L735.7 280.1L736.4 280.0L737.2 279.9L738.0 279.7L738.8 279.7L739.6 279.7L740.5 279.6L741.3 279.2L742.1 279.2L743.0 279.0L743.8 279.0L744.7 278.9L745.5 278.6L746.4 278.6L747.2 278.5L748.0 278.5L748.9 278.2L749.7 278.1L750.5 277.9L751.3 277.8L752.1 277.7L752.9 277.5L753.8 277.3L754.6 277.2L755.4 277.2L756.3 277.1L757.2 277.0L758.0 277.0L758.9 276.9L759.7 276.5L760.6 276.3L761.4 276.2L762.3 276.2L763.1 276.1L763.9 275.9L764.7 275.6L765.5 275.4L766.3 275.4L767.0 275.1L767.8 274.8L768.5 274.7L769.1 274.5L769.8 274.3L770.4 274.0L771.4 273.8L772.3 273.4L773.1 272.8L773.8 272.3L774.5 272.0L775.2 271.6L775.8 271.2L776.4 270.6L777.0 270.1L777.5 269.6L778.1 269.2L778.7 268.8L779.3 268.5L780.0 268.1L780.8 268.1L781.6 267.8L782.4 267.7L783.2 267.3L784.0 267.2L784.8 267.0L785.5 266.8L786.3 266.9L787.1 266.8L787.9 266.5L788.7 266.5L789.5 266.3L790.3 266.3L791.1 266.3L791.9 266.0L792.7 265.8L793.5 265.9L794.3 265.9L795.1 265.7L795.9 265.8L796.7 265.6L797.5 265.6L798.3 265.2L799.1 265.1L799.9 264.9L800.7 264.6L801.6 264.2L802.4 264.1L803.3 263.7L804.1 263.3L804.9 263.2L805.7 262.9L806.5 262.6L807.3 262.4L808.0 262.2L808.6 262.0L809.6 261.7L810.6 261.4L811.5 260.9L812.3 260.7L813.0 260.6L813.5 260.4L814.0 260.1" fill="none" stroke="#0000ff" stroke-width="2.20" stroke-linejoin="round" stroke-linecap="round" />
<rect x="111.00" y="402.80" width="703.00" height="151.00" fill="none" stroke="#000" stroke-width="2.20"/>
<line x1="100.00" y1="553.80" x2="111.00" y2="553.80" stroke="#000" stroke-width="2.20" stroke-linecap="butt"/>
<line x1="803.00" y1="553.80" x2="814.00" y2="553.80" stroke="#000" stroke-width="2.20" stroke-linecap="butt"/>
<text transform="translate(94.20 561.60) scale(0.962 1)" font-size="30.68px" text-anchor="end">0</text>
<line x1="100.00" y1="508.37" x2="111.00" y2="508.37" stroke="#000" stroke-width="2.20" stroke-linecap="butt"/>
<line x1="803.00" y1="508.37" x2="814.00" y2="508.37" stroke="#000" stroke-width="2.20" stroke-linecap="butt"/>
<text transform="translate(94.20 516.17) scale(0.962 1)" font-size="30.68px" text-anchor="end">15</text>
<line x1="100.00" y1="462.93" x2="111.00" y2="462.93" stroke="#000" stroke-width="2.20" stroke-linecap="butt"/>
<line x1="803.00" y1="462.93" x2="814.00" y2="462.93" stroke="#000" stroke-width="2.20" stroke-linecap="butt"/>
<text transform="translate(94.20 470.73) scale(0.962 1)" font-size="30.68px" text-anchor="end">30</text>
<line x1="100.00" y1="417.50" x2="111.00" y2="417.50" stroke="#000" stroke-width="2.20" stroke-linecap="butt"/>
<line x1="803.00" y1="417.50" x2="814.00" y2="417.50" stroke="#000" stroke-width="2.20" stroke-linecap="butt"/>
<text transform="translate(94.20 425.30) scale(0.962 1)" font-size="30.68px" text-anchor="end">45</text>
<line x1="105.00" y1="531.08" x2="111.00" y2="531.08" stroke="#000" stroke-width="2.20" stroke-linecap="butt"/>
<line x1="808.00" y1="531.08" x2="814.00" y2="531.08" stroke="#000" stroke-width="2.20" stroke-linecap="butt"/>
<line x1="105.00" y1="485.65" x2="111.00" y2="485.65" stroke="#000" stroke-width="2.20" stroke-linecap="butt"/>
<line x1="808.00" y1="485.65" x2="814.00" y2="485.65" stroke="#000" stroke-width="2.20" stroke-linecap="butt"/>
<line x1="105.00" y1="440.22" x2="111.00" y2="440.22" stroke="#000" stroke-width="2.20" stroke-linecap="butt"/>
<line x1="808.00" y1="440.22" x2="814.00" y2="440.22" stroke="#000" stroke-width="2.20" stroke-linecap="butt"/>
<line x1="211.43" y1="553.80" x2="211.43" y2="564.30" stroke="#000" stroke-width="2.20" stroke-linecap="butt"/>
<line x1="211.43" y1="402.80" x2="211.43" y2="412.80" stroke="#000" stroke-width="2.20" stroke-linecap="butt"/>
<text transform="translate(211.43 593.30) scale(0.962 1)" font-size="30.68px" text-anchor="middle">400</text>
<line x1="345.33" y1="553.80" x2="345.33" y2="564.30" stroke="#000" stroke-width="2.20" stroke-linecap="butt"/>
<line x1="345.33" y1="402.80" x2="345.33" y2="412.80" stroke="#000" stroke-width="2.20" stroke-linecap="butt"/>
<text transform="translate(345.33 593.30) scale(0.962 1)" font-size="30.68px" text-anchor="middle">600</text>
<line x1="479.24" y1="553.80" x2="479.24" y2="564.30" stroke="#000" stroke-width="2.20" stroke-linecap="butt"/>
<line x1="479.24" y1="402.80" x2="479.24" y2="412.80" stroke="#000" stroke-width="2.20" stroke-linecap="butt"/>
<text transform="translate(479.24 593.30) scale(0.962 1)" font-size="30.68px" text-anchor="middle">800</text>
<line x1="613.14" y1="553.80" x2="613.14" y2="564.30" stroke="#000" stroke-width="2.20" stroke-linecap="butt"/>
<line x1="613.14" y1="402.80" x2="613.14" y2="412.80" stroke="#000" stroke-width="2.20" stroke-linecap="butt"/>
<text transform="translate(613.14 593.30) scale(0.962 1)" font-size="30.68px" text-anchor="middle">1000</text>
<line x1="747.05" y1="553.80" x2="747.05" y2="564.30" stroke="#000" stroke-width="2.20" stroke-linecap="butt"/>
<line x1="747.05" y1="402.80" x2="747.05" y2="412.80" stroke="#000" stroke-width="2.20" stroke-linecap="butt"/>
<text transform="translate(747.05 593.30) scale(0.962 1)" font-size="30.68px" text-anchor="middle">1200</text>
<line x1="144.48" y1="553.80" x2="144.48" y2="559.80" stroke="#000" stroke-width="2.20" stroke-linecap="butt"/>
<line x1="144.48" y1="402.80" x2="144.48" y2="408.80" stroke="#000" stroke-width="2.20" stroke-linecap="butt"/>
<line x1="278.38" y1="553.80" x2="278.38" y2="559.80" stroke="#000" stroke-width="2.20" stroke-linecap="butt"/>
<line x1="278.38" y1="402.80" x2="278.38" y2="408.80" stroke="#000" stroke-width="2.20" stroke-linecap="butt"/>
<line x1="412.29" y1="553.80" x2="412.29" y2="559.80" stroke="#000" stroke-width="2.20" stroke-linecap="butt"/>
<line x1="412.29" y1="402.80" x2="412.29" y2="408.80" stroke="#000" stroke-width="2.20" stroke-linecap="butt"/>
<line x1="546.19" y1="553.80" x2="546.19" y2="559.80" stroke="#000" stroke-width="2.20" stroke-linecap="butt"/>
<line x1="546.19" y1="402.80" x2="546.19" y2="408.80" stroke="#000" stroke-width="2.20" stroke-linecap="butt"/>
<line x1="680.10" y1="553.80" x2="680.10" y2="559.80" stroke="#000" stroke-width="2.20" stroke-linecap="butt"/>
<line x1="680.10" y1="402.80" x2="680.10" y2="408.80" stroke="#000" stroke-width="2.20" stroke-linecap="butt"/>
<line x1="814.00" y1="553.80" x2="814.00" y2="559.80" stroke="#000" stroke-width="2.20" stroke-linecap="butt"/>
<text transform="translate(22.5 486.90) rotate(-90)" font-size="30.30px" text-anchor="middle">R (%)</text>
<line x1="147.80" y1="428.50" x2="214.60" y2="428.50" stroke="#ff0000" stroke-width="2.20" stroke-linecap="butt"/>
<text x="221.80" y="438.70" font-size="29.00px" text-anchor="start" >Uncapped</text>
<text x="744.70" y="460.70" font-size="61.00px" text-anchor="start" >c</text>
<text x="777.30" y="460.70" font-size="61.00px" text-anchor="start" >)</text>
<path d="M111.3 536.2L111.9 536.7L112.7 537.1L113.6 537.8L114.5 538.2L115.4 538.4L116.4 538.2L117.4 538.4L118.4 537.7L119.3 537.2L120.3 537.2L121.2 537.1L122.1 536.9L122.8 537.4L123.5 537.5L124.2 538.4L124.9 538.9L125.6 538.7L126.4 539.0L127.1 538.8L127.8 538.9L128.7 539.8L129.4 540.0L130.1 539.5L130.9 539.2L131.7 539.3L132.6 538.6L133.5 538.7L134.3 538.7L135.2 538.1L136.1 537.6L137.0 538.0L138.0 537.3L138.9 537.3L139.8 536.9L140.7 536.8L141.6 537.2L142.5 537.2L143.4 537.4L144.3 537.6L145.2 537.6L146.1 537.6L146.9 536.7L147.7 536.5L148.5 535.9L149.3 535.7L150.1 535.0L150.9 534.4L151.7 534.7L152.5 533.9L153.3 533.4L154.1 533.9L154.9 533.0L155.8 533.2L156.6 532.6L157.3 532.3L158.1 532.4L158.8 532.3L159.8 531.7L160.7 531.2L161.6 531.4L162.5 531.4L163.5 531.2L164.2 531.2L165.0 531.2L165.8 531.6L166.6 531.7L167.4 531.3L168.3 531.8L169.1 531.5L169.9 531.4L170.8 531.5L171.7 531.5L172.6 531.9L173.6 531.6L174.5 531.0L175.3 531.1L176.2 531.1L177.2 530.7L178.1 531.1L179.1 530.6L180.0 530.5L180.9 530.2L181.7 531.0L182.6 531.0L183.4 530.6L184.1 529.9L184.9 529.2L185.7 529.2L186.6 529.6L187.5 530.0L188.4 530.6L189.4 530.7L190.4 530.3L191.2 530.3L192.0 530.9L192.8 531.4L193.7 531.0L194.5 531.2L195.3 531.5L196.0 531.1L196.9 531.3L197.7 531.3L198.5 531.7L199.2 532.4L199.9 532.9L200.7 532.6L201.5 532.8L202.3 532.1L203.1 532.0L203.7 531.3L204.4 530.7L205.1 530.7L205.8 530.5L206.5 529.6L207.1 529.0L207.9 528.3L208.7 527.9L209.4 526.9L210.2 526.7L211.1 526.2L212.0 525.8L213.0 525.6L213.9 525.1L214.8 525.3L215.6 525.7L216.4 526.1L217.3 526.7L217.8 527.1L218.4 527.6L219.0 528.2L219.6 529.0L220.2 529.6L220.8 530.3L221.3 530.8L222.0 531.4L222.7 532.0L223.3 532.6L223.9 533.0L224.5 533.4L225.4 534.0L226.3 534.4L227.2 534.5L228.1 534.4L229.0 534.2L230.0 533.5L230.6 532.9L231.3 532.2L232.0 531.6L232.6 531.0L233.2 530.3L233.7 529.6L234.1 529.0L234.5 528.3L235.1 527.2L235.4 526.5L235.7 526.0L236.1 525.2L236.5 524.4L236.9 523.5L237.3 522.7L237.7 522.0L238.2 521.3L238.7 520.6L239.2 520.0L239.7 519.2L240.3 518.6L240.9 518.0L241.6 517.1L242.2 516.5L242.8 516.0L243.4 515.4L244.0 514.9L244.5 514.6L245.4 514.1L246.3 513.9L247.1 513.8L248.0 513.9L248.9 514.3L249.4 514.6L249.9 515.2L250.5 515.7L251.0 516.2L251.6 516.7L252.2 517.4L252.8 518.1L253.4 518.8L254.1 519.7L254.7 520.6L255.1 521.1L255.6 521.6L256.0 522.4L256.5 523.1L256.9 523.8L257.4 524.6L257.9 525.4L258.4 526.3L258.9 527.0L259.4 527.8L259.8 528.6L260.3 529.2L260.8 529.8L261.2 530.5L261.6 531.0L262.0 531.4L263.0 532.4L263.8 533.1L264.6 533.5L265.4 533.7L266.2 533.8L267.0 533.8L267.6 533.8L268.2 533.6L268.8 533.3L269.4 533.0L270.1 532.6L270.7 531.8L271.5 531.1L272.3 530.0L272.7 529.6L273.0 529.1L273.4 528.5L273.8 527.8L274.3 527.2L274.7 526.4L275.1 525.6L275.6 524.8L276.1 524.0L276.5 523.1L277.0 522.3L277.5 521.7L277.9 521.0L278.4 520.1L278.8 519.3L279.3 518.6L279.7 517.9L280.2 517.2L280.6 516.8L281.0 516.1L281.7 515.3L282.3 514.5L283.0 513.8L283.6 513.3L284.3 512.8L284.9 512.1L285.5 511.5L286.1 511.0L286.7 510.6L287.3 510.1L287.8 509.9L288.3 509.5L289.3 508.8L290.2 508.4L291.0 508.3L291.8 508.3L292.7 508.3L293.4 508.3L294.2 508.3L294.9 508.4L295.7 508.7L296.6 509.0L297.5 509.6L298.5 510.3L299.0 510.6L299.5 511.0L300.0 511.7L300.5 512.2L301.0 512.9L301.6 513.5L302.1 514.2L302.7 514.8L303.3 515.4L303.9 516.2L304.5 516.9L305.0 517.8L305.6 518.4L306.2 519.2L306.7 519.9L307.3 520.4L307.8 521.1L308.3 521.8L308.9 522.5L309.4 523.1L309.9 523.9L310.4 524.6L311.0 525.1L311.5 525.8L312.0 526.5L312.5 527.2L313.0 527.7L313.5 528.4L314.0 529.1L314.5 529.5L315.0 530.1L315.5 530.5L316.0 530.9L316.8 531.5L317.6 532.1L318.3 532.7L319.1 533.1L319.8 533.5L320.5 533.6L321.2 533.8L321.9 534.1L322.7 534.2L323.4 534.3L324.2 534.3L325.0 534.3L325.8 534.1L326.6 533.8L327.4 533.5L328.2 533.2L329.0 532.8L329.9 532.2L330.7 531.6L331.3 531.3L331.8 530.8L332.4 530.3L332.9 529.8L333.5 529.2L334.1 528.7L334.7 528.1L335.2 527.6L335.8 526.9L336.4 526.3L337.0 525.5L337.6 524.8L338.2 524.1L338.8 523.5L339.3 523.0L339.7 522.3L340.2 521.6L340.7 521.0L341.2 520.4L341.7 519.7L342.1 518.9L342.6 518.3L343.1 517.5L343.6 516.7L344.1 516.1L344.6 515.4L345.1 514.8L345.5 514.1L346.0 513.4L346.5 512.9L347.0 512.2L347.5 511.7L348.2 511.0L348.9 510.5L349.6 509.8L350.2 509.2L350.9 508.8L351.6 508.2L352.3 507.8L353.0 507.3L353.7 506.9L354.4 506.4L355.0 506.2L355.7 505.8L356.3 505.3L357.2 504.9L358.0 504.6L358.8 504.2L359.6 504.0L360.4 503.9L361.2 503.7L362.0 503.7L362.8 503.5L363.6 503.6L364.4 503.8L365.1 503.7L365.9 503.9L366.6 503.9L367.4 504.2L368.1 504.5L369.0 504.8L369.9 505.4L370.9 506.0L371.4 506.2L371.9 506.7L372.5 507.1L373.1 507.6L373.7 508.1L374.3 508.5L374.9 509.0L375.5 509.7L376.2 510.4L376.8 510.8L377.5 511.5L378.1 512.0L378.8 512.7L379.4 513.3L380.1 513.9L380.7 514.6L381.4 515.2L382.0 515.7L382.6 516.1L383.2 516.7L383.8 517.4L384.4 518.0L384.9 518.4L385.5 519.1L386.1 519.6L386.7 520.3L387.3 520.9L387.9 521.4L388.5 521.9L389.1 522.5L389.7 523.2L390.2 523.7L390.8 524.3L391.4 525.0L392.0 525.4L392.5 525.9L393.1 526.4L393.6 526.8L394.2 527.3L395.0 527.8L395.8 528.3L396.5 528.8L397.3 529.3L398.1 529.8L398.9 530.1L399.6 530.6L400.4 531.1L401.1 531.3L401.8 531.7L402.5 532.1L403.2 532.3L403.9 532.6L404.5 532.8L405.4 533.0L406.3 533.4L407.1 533.7L407.9 534.0L408.6 534.1L409.4 534.1L410.1 534.3L410.9 534.3L411.8 534.2L412.5 534.3L413.3 534.2L414.0 534.2L414.7 534.1L415.5 533.9L416.3 533.7L417.1 533.5L417.9 533.4L418.7 533.0L419.6 532.5L420.5 532.1L421.1 531.7L421.7 531.4L422.2 531.1L422.8 530.7L423.5 530.4L424.1 529.9L424.7 529.4L425.3 528.9L426.0 528.4L426.6 527.9L427.3 527.3L428.0 526.9L428.7 526.5L429.3 525.8L430.0 525.2L430.8 524.6L431.5 524.0L432.2 523.4L432.8 523.0L433.4 522.5L434.0 522.1L434.6 521.7L435.2 521.0L435.8 520.5L436.4 519.9L437.1 519.2L437.7 518.7L438.3 518.2L439.0 517.7L439.6 517.1L440.3 516.4L441.0 515.9L441.6 515.4L442.3 514.9L442.9 514.3L443.6 513.8L444.2 513.3L444.9 512.6L445.5 512.2L446.2 511.8L446.8 511.2L447.5 510.8L448.2 510.2L448.9 509.7L449.6 509.2L450.3 508.7L451.1 508.3L451.8 507.8L452.5 507.4L453.2 507.0L453.9 506.6L454.6 506.0L455.3 505.6L456.0 505.3L456.7 504.7L457.4 504.4L458.1 504.0L458.8 503.6L459.5 503.3L460.1 502.9L460.8 502.6L461.4 502.3L462.3 502.1L463.2 501.7L464.2 501.4L465.0 501.1L465.9 500.8L466.8 500.6L467.6 500.6L468.4 500.4L469.3 500.2L470.1 500.1L470.8 500.1L471.6 500.0L472.4 499.9L473.1 499.8L474.1 499.6L475.0 499.5L475.8 499.5L476.7 499.5L477.5 499.5L478.2 499.5L479.1 499.6L479.9 499.5L480.8 499.7L481.8 499.9L482.5 499.9L483.3 500.0L484.1 500.1L484.8 500.2L485.6 500.4L486.5 500.5L487.3 500.7L488.1 500.8L489.0 501.0L489.9 501.3L490.7 501.4L491.7 501.7L492.6 502.1L493.5 502.4L494.2 502.6L494.8 503.0L495.5 503.2L496.2 503.6L496.9 503.9L497.7 504.3L498.4 504.6L499.1 505.1L499.9 505.5L500.6 506.0L501.4 506.4L502.1 506.8L502.9 507.2L503.6 507.6L504.4 508.1L505.1 508.4L505.9 508.9L506.6 509.3L507.4 509.7L508.1 510.2L508.8 510.6L509.4 511.1L510.1 511.5L510.8 511.9L511.4 512.5L512.1 513.1L512.7 513.4L513.4 513.9L514.1 514.5L514.7 514.9L515.4 515.3L516.1 515.9L516.7 516.3L517.4 516.9L518.1 517.3L518.7 517.8L519.4 518.2L520.0 518.6L520.7 519.2L521.4 519.6L522.0 520.1L522.7 520.4L523.4 520.9L524.2 521.4L524.9 521.9L525.7 522.4L526.5 522.9L527.3 523.3L528.0 523.8L528.8 524.1L529.6 524.4L530.4 525.0L531.1 525.3L531.9 525.7L532.6 526.1L533.3 526.4L534.1 526.8L534.8 527.2L535.4 527.4L536.1 527.7L536.7 528.1L537.3 528.4L538.3 528.8L539.2 529.2L540.0 529.4L540.8 529.4L541.5 530.2L542.2 530.3L542.9 530.5L543.7 530.6L544.4 531.2L545.2 530.6L546.1 531.4L546.8 531.7L547.6 531.5L548.4 531.2L549.2 531.8L550.0 531.7L550.9 532.5L551.7 532.9L552.6 532.3L553.4 533.0L554.3 532.5L555.1 533.0L556.0 533.5L556.9 533.2L557.7 533.5L558.5 533.3L559.4 533.7L560.2 533.6L561.1 533.4L561.9 533.5L562.7 533.7L563.6 533.8L564.4 533.9L565.3 534.0L566.1 534.2L567.0 534.3L567.9 533.6L568.7 533.4L569.6 533.1L570.4 533.5L571.1 533.3L571.9 533.6L572.6 533.4L573.4 533.4L574.2 533.0L574.9 532.9L575.7 532.7L576.5 532.6L577.3 532.1L578.1 531.7L578.9 531.5L579.7 531.2L580.5 531.2L581.4 530.8L582.3 530.4L583.0 530.3L583.7 529.9L584.4 529.7L585.1 529.5L585.8 529.3L586.5 529.0L587.3 528.7L588.0 528.3L588.8 527.9L589.5 527.5L590.3 527.2L591.1 526.9L591.8 526.6L592.6 526.0L593.4 525.7L594.2 525.4L595.0 525.0L595.8 524.5L596.6 524.2L597.5 523.8L598.3 523.5L599.0 523.2L599.7 522.8L600.4 522.4L601.1 522.1L601.8 522.0L602.5 521.7L603.2 521.2L603.9 521.0L604.7 520.8L605.4 520.5L606.2 520.2L606.9 519.9L607.7 519.5L608.4 519.2L609.2 518.8L609.9 518.5L610.7 518.0L611.4 517.9L612.2 517.5L612.9 517.3L613.7 516.8L614.4 516.3L615.2 516.3L615.9 515.9L616.7 515.6L617.4 515.3L618.1 515.0L618.9 514.5L619.6 514.1L620.3 513.7L621.1 513.4L621.8 513.1L622.5 512.8L623.3 512.6L624.0 512.3L624.7 511.7L625.5 511.3L626.2 511.0L627.0 510.7L627.7 510.5L628.4 510.2L629.2 509.7L629.9 509.4L630.6 509.1L631.4 508.7L632.1 508.3L632.8 508.0L633.6 507.7L634.3 507.4L635.0 507.0L635.8 506.9L636.5 506.6L637.3 506.4L638.1 506.2L638.9 505.7L639.7 505.6L640.5 505.2L641.3 504.8L642.2 504.4L643.0 504.4L643.8 504.0L644.6 503.7L645.4 503.5L646.2 503.4L647.1 503.2L647.9 503.0L648.7 502.8L649.5 502.5L650.3 502.3L651.0 502.0L651.8 501.7L652.6 501.4L653.4 501.4L654.1 501.3L654.9 501.0L655.6 500.7L656.5 500.5L657.3 500.2L658.2 500.3L659.0 500.2L659.8 500.0L660.6 499.9L661.4 499.5L662.2 499.4L663.0 499.1L663.8 499.3L664.6 499.0L665.4 499.0L666.1 499.0L666.9 498.9L667.7 498.8L668.5 498.5L669.2 498.6L670.0 498.6L670.8 498.5L671.6 498.5L672.4 498.2L673.3 498.2L674.1 498.2L675.0 498.1L675.8 498.1L676.6 497.8L677.5 497.7L678.3 497.6L679.1 497.7L680.0 497.8L680.8 497.6L681.6 497.7L682.5 497.6L683.3 497.7L684.2 497.8L685.0 497.6L685.8 497.5L686.7 497.5L687.5 497.7L688.3 497.8L689.2 497.7L690.0 497.6L690.8 497.6L691.6 497.6L692.4 497.5L693.2 497.8L694.0 497.8L694.8 497.8L695.7 497.7L696.5 497.8L697.3 497.9L698.1 498.0L699.0 498.0L699.8 498.1L700.7 498.4L701.6 498.5L702.5 498.7L703.4 498.6L704.1 498.6L704.9 498.6L705.6 498.8L706.4 499.0L707.1 499.2L707.9 499.3L708.7 499.3L709.4 499.5L710.2 499.6L711.0 499.6L711.8 499.8L712.6 500.1L713.4 500.2L714.2 500.1L715.0 500.5L715.8 500.7L716.7 500.8L717.5 500.9L718.3 501.0L719.2 501.3L720.0 501.5L720.9 501.6L721.7 501.6L722.6 501.7L723.3 501.8L724.1 502.0L724.9 502.2L725.6 502.4L726.4 502.5L727.2 502.6L728.0 502.7L728.7 503.0L729.5 503.1L730.3 503.4L731.1 503.6L731.9 503.6L732.7 503.7L733.6 504.0L734.4 504.1L735.2 504.3L736.0 504.5L736.8 504.8L737.6 505.0L738.4 505.0L739.3 505.2L740.1 505.5L740.9 505.5L741.7 505.8L742.5 506.1L743.3 506.2L744.1 506.4L744.9 506.6L745.7 506.8L746.4 507.1L747.2 507.2L748.0 507.3L748.7 507.8L749.5 508.0L750.3 508.3L751.1 508.4L751.8 508.7L752.6 509.0L753.4 509.1L754.1 509.4L754.9 509.7L755.7 510.0L756.4 510.3L757.2 510.3L758.0 510.7L758.7 510.8L759.5 511.0L760.3 511.3L761.0 511.6L761.8 512.0L762.6 512.0L763.4 512.2L764.1 512.4L764.9 512.6L765.7 512.9L766.4 513.3L767.2 513.4L768.0 513.8L768.7 514.2L769.5 514.3L770.3 514.7L771.0 514.7L771.8 514.8L772.5 515.2L773.3 515.5L774.0 515.8L774.8 515.9L775.6 516.3L776.3 516.4L777.1 516.5L777.8 516.9L778.6 517.2L779.4 517.4L780.1 517.6L780.9 518.0L781.6 518.0L782.4 518.4L783.2 518.5L784.0 518.6L784.7 518.8L785.5 519.0L786.3 519.2L787.1 519.7L787.9 519.8L788.7 519.9L789.5 520.1L790.3 520.3L791.1 520.5L791.9 520.7L792.7 521.2L793.6 521.4L794.5 521.7L795.4 521.9L796.3 522.2L797.2 522.4L798.1 522.6L799.0 522.9L799.9 523.0L800.9 523.2L801.8 523.4L802.7 523.8L803.6 524.1L804.5 524.2L805.3 524.3L806.2 524.6L807.0 524.8L807.8 525.0L808.6 525.3L809.4 525.4L810.1 525.6L810.8 525.8L811.4 526.2L812.0 526.3L812.6 526.4L813.1 526.5L813.6 526.5L814.0 526.5" fill="none" stroke="#ff0000" stroke-width="2.20" stroke-linejoin="round" stroke-linecap="round" />
<text x="462.50" y="622.00" font-size="29.00px" text-anchor="middle" >&#955; (nm)</text>
<path d="M112.3 889.5L112.5 890.0L112.8 890.8L113.2 891.6L113.5 892.0L114.0 891.6L114.5 890.9L115.0 890.5L115.4 890.8L115.8 891.4L116.2 892.1L116.6 892.7L117.0 893.0L117.6 892.8L118.3 892.2L119.0 892.0L119.4 892.2L119.9 892.6L120.3 893.1L120.8 893.7L121.4 894.1L122.0 894.5L122.5 894.7L123.1 894.8L123.7 895.0L124.4 895.1L125.0 895.2L125.7 895.2L126.3 895.3L126.9 895.3L127.6 895.3L128.2 895.4L128.9 895.4L129.5 895.3L130.2 895.3L130.8 895.2L131.3 895.0L131.9 894.8L132.4 894.6L132.8 894.3L133.2 893.9L133.7 893.3L134.2 892.4L134.4 892.0L134.6 891.6L134.8 891.2L135.0 890.8L135.1 890.3L135.3 889.8L135.5 889.3L135.7 888.7L135.9 888.1L136.2 887.6L136.4 886.9L136.6 886.3L136.8 885.7L137.0 885.0L137.2 884.3L137.4 883.6L137.6 882.9L137.8 882.2L137.9 881.7L138.1 881.2L138.2 880.7L138.4 880.1L138.5 879.6L138.6 879.0L138.8 878.5L138.9 877.9L139.1 877.3L139.2 876.7L139.3 876.1L139.5 875.5L139.6 874.9L139.8 874.3L139.9 873.7L140.0 873.0L140.2 872.4L140.3 871.8L140.5 871.2L140.6 870.5L140.7 869.9L140.9 869.2L141.0 868.6L141.1 868.0L141.3 867.4L141.4 866.7L141.5 866.1L141.6 865.5L141.7 864.9L141.8 864.4L141.9 863.8L142.0 863.2L142.2 862.6L142.3 862.1L142.4 861.5L142.5 860.9L142.6 860.3L142.7 859.8L142.8 859.2L142.9 858.6L143.0 858.0L143.0 857.4L143.1 856.8L143.2 856.2L143.3 855.6L143.4 855.0L143.5 854.4L143.6 853.8L143.7 853.2L143.8 852.5L143.9 851.9L144.0 851.3L144.1 850.6L144.2 849.9L144.3 849.3L144.4 848.6L144.5 848.0L144.6 847.5L144.6 846.9L144.7 846.3L144.8 845.7L144.9 845.1L145.0 844.5L145.1 843.9L145.1 843.3L145.2 842.7L145.3 842.0L145.4 841.4L145.5 840.8L145.6 840.1L145.6 839.5L145.7 838.8L145.8 838.2L145.9 837.5L146.0 836.9L146.1 836.2L146.1 835.6L146.2 835.0L146.3 834.3L146.4 833.7L146.5 833.1L146.5 832.5L146.6 831.8L146.7 831.2L146.8 830.6L146.9 830.0L146.9 829.5L147.0 828.9L147.1 828.3L147.2 827.8L147.2 827.2L147.3 826.7L147.4 826.0L147.5 825.3L147.6 824.6L147.7 823.9L147.8 823.2L147.9 822.5L148.0 821.8L148.1 821.1L148.2 820.5L148.2 819.8L148.3 819.2L148.4 818.5L148.5 817.9L148.6 817.3L148.7 816.7L148.8 816.1L148.8 815.5L148.9 815.0L149.0 814.4L149.1 813.9L149.2 813.4L149.2 812.9L149.3 812.4L149.4 811.9L149.4 811.4L149.5 811.0L149.6 810.0L149.8 809.2L149.9 808.5L150.0 807.9L150.1 807.3L150.2 806.8L150.3 806.3L150.3 805.7L150.4 805.2L150.5 804.6L150.6 804.0L150.7 803.4L150.8 802.8L150.8 802.3L150.9 801.7L151.0 801.1L151.1 800.5L151.1 799.9L151.2 799.2L151.3 798.6L151.4 798.0L151.4 797.3L151.5 796.7L151.6 796.0L151.7 795.4L151.7 794.8L151.8 794.2L151.9 793.5L151.9 792.9L152.0 792.3L152.1 791.6L152.1 791.0L152.2 790.3L152.3 789.6L152.3 789.0L152.4 788.4L152.5 787.7L152.5 787.1L152.6 786.5L152.7 785.9L152.7 785.2L152.8 784.6L152.8 783.9L152.9 783.3L153.0 782.7L153.0 782.0L153.1 781.4L153.1 780.8L153.2 780.2L153.2 779.6L153.3 779.1L153.3 778.5L153.4 778.0L153.5 777.3L153.5 776.6L153.6 775.9L153.7 775.2L153.7 774.6L153.8 774.0L153.9 773.5L153.9 772.9L154.0 772.4L154.1 772.0L154.4 771.1L154.6 770.3L155.0 769.9L155.3 769.6L155.8 770.2L156.4 771.3L157.0 770.9L157.1 770.6L157.2 770.3L157.3 769.9L157.4 769.4L157.4 769.0L157.5 768.4L157.6 767.9L157.7 767.3L157.8 766.7L157.9 766.1L158.0 765.4L158.1 764.7L158.2 764.0L158.3 763.3L158.4 762.6L158.5 761.9L158.5 761.2L158.6 760.4L158.7 759.7L158.8 759.0L158.9 758.5L158.9 757.9L159.0 757.3L159.1 756.7L159.1 756.0L159.2 755.3L159.2 754.7L159.3 754.0L159.4 753.3L159.4 752.5L159.5 751.8L159.6 751.1L159.6 750.4L159.7 749.7L159.8 749.0L159.8 748.3L159.9 747.7L159.9 747.0L160.0 746.4L160.0 745.8L160.1 745.2L160.1 744.7L160.2 744.2L160.2 743.7L160.2 743.3L160.3 742.9L160.3 742.6L160.4 742.2L160.5 741.8L160.6 741.4L160.7 741.0L160.8 740.6L160.9 740.3L161.0 740.0L161.0 739.7L161.1 739.5L161.2 739.3L161.3 739.1L161.4 739.0L161.5 738.9L161.6 738.9L161.7 739.1L161.9 739.5L162.1 740.1L162.2 741.0L162.3 741.7L162.4 742.5L162.5 743.3L162.6 744.0L162.7 744.6L162.8 745.2L162.9 745.9L163.0 746.7L163.1 747.5L163.2 748.2L163.3 749.1L163.5 749.7L163.6 750.2L163.8 750.3L164.1 749.8L164.4 748.7L164.5 748.3L164.6 747.8L164.7 747.2L164.8 746.5L164.9 745.9L165.0 745.1L165.1 744.4L165.2 743.8L165.2 743.3L165.3 742.7L165.3 742.0L165.4 741.4L165.5 740.8L165.5 740.1L165.6 739.4L165.7 738.8L165.7 738.1L165.8 737.5L165.8 736.9L165.9 736.2L166.0 735.6L166.0 734.9L166.1 734.3L166.1 733.6L166.2 733.0L166.3 732.3L166.3 731.7L166.4 731.1L166.4 730.4L166.5 729.8L166.6 729.1L166.6 728.4L166.7 727.8L166.8 727.2L166.8 726.5L166.9 725.9L167.0 725.4L167.0 724.8L167.1 724.1L167.2 723.3L167.3 722.7L167.4 722.0L167.5 721.4L167.6 720.9L167.7 720.5L168.0 719.3L168.3 718.9L168.6 719.1L168.8 719.8L169.0 720.4L169.1 721.0L169.2 721.7L169.4 722.5L169.4 723.1L169.5 723.7L169.6 724.3L169.7 725.0L169.8 725.6L169.9 726.3L170.0 726.9L170.0 727.5L170.1 728.1L170.2 728.8L170.3 729.4L170.3 730.0L170.4 730.6L170.5 731.3L170.6 731.9L170.7 732.6L170.8 733.2L170.9 733.8L170.9 734.4L171.1 735.2L171.2 735.9L171.3 736.5L171.5 737.1L171.7 737.8L172.0 738.0L172.3 737.6L172.7 736.4L172.8 736.0L172.9 735.5L173.0 734.9L173.1 734.2L173.2 733.6L173.2 732.8L173.3 732.1L173.4 731.5L173.5 731.0L173.5 730.4L173.6 729.7L173.7 729.1L173.7 728.5L173.8 727.8L173.9 727.1L173.9 726.5L174.0 725.8L174.1 725.2L174.1 724.6L174.2 723.9L174.3 723.3L174.3 722.6L174.4 722.0L174.4 721.3L174.5 720.7L174.6 720.0L174.6 719.4L174.7 718.8L174.8 718.1L174.8 717.5L174.9 716.8L175.0 716.1L175.0 715.5L175.1 714.9L175.2 714.2L175.2 713.6L175.3 713.1L175.4 712.5L175.5 711.8L175.5 711.0L175.6 710.4L175.7 709.7L175.8 709.1L175.9 708.6L176.0 708.2L176.4 707.0L176.7 706.6L177.0 706.9L177.3 707.8L177.4 708.3L177.5 708.9L177.6 709.6L177.7 710.3L177.8 711.1L177.9 711.7L178.0 712.2L178.1 712.8L178.1 713.4L178.2 714.1L178.3 714.7L178.3 715.3L178.4 716.0L178.5 716.6L178.6 717.3L178.6 718.0L178.7 718.7L178.8 719.3L178.8 720.0L178.9 720.7L179.0 721.3L179.1 722.0L179.1 722.6L179.2 723.2L179.3 723.9L179.3 724.5L179.4 725.1L179.5 725.6L179.6 726.2L179.7 727.0L179.8 727.7L179.9 728.4L180.0 729.0L180.1 729.5L180.4 730.4L180.7 730.7L181.1 730.3L181.5 729.1L181.6 728.6L181.7 728.1L181.8 727.5L181.9 726.8L182.0 726.1L182.2 725.4L182.3 724.6L182.4 724.1L182.4 723.5L182.5 722.8L182.6 722.2L182.7 721.6L182.7 720.9L182.8 720.2L182.9 719.5L183.0 718.8L183.1 718.1L183.1 717.6L183.2 717.0L183.3 716.4L183.3 715.8L183.4 715.2L183.4 714.6L183.5 713.9L183.6 713.3L183.6 712.7L183.7 712.1L183.8 711.5L183.8 711.0L183.9 710.3L184.0 709.6L184.1 708.9L184.2 708.2L184.2 707.5L184.3 706.9L184.4 706.3L184.5 705.6L184.5 705.0L184.6 704.5L184.7 703.7L184.9 703.0L185.0 702.3L185.1 701.6L185.2 701.0L185.3 700.5L185.4 700.0L185.8 698.8L186.2 698.4L186.6 698.7L186.9 699.8L187.0 700.3L187.1 700.8L187.2 701.4L187.4 702.1L187.5 702.9L187.6 703.6L187.7 704.2L187.8 704.7L187.8 705.3L187.9 706.0L188.0 706.6L188.1 707.2L188.1 707.9L188.2 708.6L188.3 709.2L188.4 709.8L188.4 710.4L188.5 711.0L188.6 711.7L188.6 712.3L188.7 712.9L188.8 713.6L188.9 714.2L188.9 714.8L189.0 715.4L189.1 716.0L189.2 716.7L189.2 717.4L189.3 718.0L189.4 718.6L189.5 719.3L189.5 719.9L189.6 720.4L189.7 721.0L189.8 721.7L189.9 722.5L190.1 723.2L190.2 723.8L190.3 724.3L190.4 724.8L190.7 725.9L191.1 726.2L191.4 726.0L191.7 725.4L192.0 724.6L192.1 724.1L192.2 723.5L192.3 722.9L192.5 722.2L192.6 721.5L192.7 720.7L192.8 719.9L192.9 719.4L193.0 718.9L193.1 718.3L193.2 717.7L193.2 717.1L193.3 716.5L193.4 715.9L193.5 715.2L193.6 714.6L193.6 713.9L193.7 713.3L193.8 712.7L193.9 712.1L193.9 711.5L194.0 710.9L194.1 710.2L194.1 709.6L194.2 709.0L194.3 708.3L194.4 707.7L194.4 707.1L194.5 706.5L194.6 705.9L194.7 705.3L194.7 704.6L194.8 704.0L194.9 703.3L195.0 702.7L195.1 702.1L195.1 701.5L195.2 700.9L195.3 700.3L195.4 699.8L195.5 699.3L195.6 698.5L195.7 697.7L195.8 697.0L196.0 696.3L196.1 695.7L196.2 695.1L196.3 694.6L196.6 693.8L196.9 693.2L197.2 693.0L197.6 693.4L198.0 694.5L198.1 694.9L198.3 695.5L198.4 696.0L198.5 696.6L198.6 697.3L198.7 698.0L198.9 698.7L198.9 699.3L199.0 699.8L199.1 700.4L199.2 701.0L199.3 701.6L199.4 702.2L199.4 702.9L199.5 703.5L199.6 704.2L199.7 704.8L199.8 705.4L199.8 706.0L199.9 706.6L200.0 707.3L200.1 707.9L200.1 708.5L200.2 709.1L200.3 709.8L200.4 710.4L200.4 711.0L200.5 711.6L200.6 712.2L200.7 712.9L200.8 713.5L200.8 714.2L200.9 714.8L201.0 715.4L201.1 716.0L201.2 716.6L201.3 717.1L201.3 717.7L201.5 718.4L201.6 719.1L201.7 719.8L201.8 720.4L201.9 720.9L202.1 721.5L202.2 721.9L202.6 723.0L203.0 723.4L203.3 723.2L203.6 722.6L203.9 721.7L204.1 721.2L204.2 720.8L204.3 720.2L204.4 719.6L204.5 719.0L204.6 718.3L204.8 717.6L204.9 716.9L205.0 716.3L205.1 715.8L205.1 715.2L205.2 714.6L205.3 713.9L205.4 713.3L205.5 712.6L205.6 712.0L205.7 711.3L205.7 710.6L205.8 709.9L205.9 709.3L206.0 708.7L206.1 708.1L206.1 707.4L206.2 706.8L206.3 706.1L206.4 705.4L206.5 704.8L206.5 704.1L206.6 703.5L206.7 702.9L206.8 702.3L206.9 701.6L206.9 700.9L207.0 700.2L207.1 699.6L207.2 698.9L207.3 698.3L207.4 697.6L207.5 697.0L207.5 696.4L207.6 695.9L207.7 695.3L207.8 694.6L208.0 693.9L208.1 693.2L208.2 692.6L208.3 692.0L208.4 691.4L208.5 691.0L208.7 690.5L209.0 689.6L209.3 689.0L209.6 688.8L209.9 689.0L210.2 689.5L210.6 690.4L210.7 690.9L210.8 691.4L211.0 692.0L211.1 692.7L211.2 693.4L211.4 694.1L211.5 694.9L211.6 695.4L211.7 696.0L211.8 696.7L211.9 697.3L212.0 697.9L212.1 698.6L212.2 699.3L212.3 700.0L212.4 700.7L212.5 701.4L212.6 701.9L212.6 702.5L212.7 703.1L212.8 703.7L212.9 704.3L212.9 704.9L213.0 705.6L213.1 706.2L213.2 706.8L213.3 707.4L213.3 708.0L213.4 708.5L213.5 709.2L213.6 709.9L213.7 710.6L213.8 711.3L213.9 712.0L214.0 712.6L214.1 713.2L214.2 713.9L214.3 714.5L214.4 715.0L214.5 715.8L214.7 716.5L214.8 717.2L214.9 717.9L215.1 718.5L215.2 719.0L215.3 719.5L215.7 720.4L216.0 720.9L216.3 721.1L216.7 720.9L217.0 720.3L217.4 719.4L217.5 718.9L217.7 718.4L217.8 717.9L217.9 717.3L218.1 716.6L218.2 715.9L218.4 715.2L218.5 714.5L218.6 713.9L218.7 713.4L218.8 712.8L218.9 712.1L219.0 711.5L219.1 710.8L219.2 710.2L219.3 709.5L219.4 708.8L219.5 708.1L219.6 707.5L219.7 706.9L219.8 706.3L219.9 705.7L219.9 705.1L220.0 704.5L220.1 703.9L220.2 703.2L220.3 702.6L220.4 702.0L220.4 701.4L220.5 700.8L220.6 700.2L220.7 699.6L220.8 699.0L220.9 698.3L221.0 697.6L221.1 696.9L221.2 696.3L221.3 695.6L221.4 695.0L221.5 694.3L221.6 693.7L221.7 693.2L221.8 692.6L221.9 691.9L222.1 691.2L222.2 690.5L222.4 689.8L222.5 689.2L222.6 688.7L222.8 688.2L222.9 687.7L223.3 686.8L223.6 686.2L224.0 686.0L224.4 686.2L224.7 686.7L225.1 687.6L225.3 688.1L225.4 688.7L225.6 689.3L225.8 689.9L225.9 690.7L226.1 691.4L226.2 692.2L226.3 692.7L226.4 693.3L226.5 693.8L226.6 694.4L226.7 695.0L226.8 695.6L226.9 696.3L227.0 696.9L227.1 697.5L227.2 698.2L227.3 698.8L227.4 699.4L227.5 700.0L227.6 700.6L227.7 701.2L227.8 701.8L227.9 702.4L228.0 703.1L228.1 703.7L228.2 704.3L228.3 704.9L228.4 705.5L228.5 706.1L228.6 706.7L228.7 707.4L228.8 708.0L228.9 708.6L229.0 709.3L229.1 709.9L229.2 710.5L229.3 711.1L229.4 711.6L229.5 712.2L229.6 712.7L229.7 713.5L229.9 714.2L230.0 715.0L230.2 715.6L230.4 716.2L230.5 716.8L230.7 717.3L231.1 718.2L231.4 718.7L231.8 718.9L232.2 718.7L232.6 718.1L233.1 717.1L233.2 716.6L233.4 716.1L233.5 715.6L233.7 714.9L233.8 714.3L234.0 713.6L234.2 712.8L234.3 712.1L234.4 711.6L234.5 711.0L234.6 710.4L234.7 709.9L234.8 709.3L234.9 708.6L235.0 708.0L235.2 707.4L235.3 706.8L235.4 706.1L235.5 705.5L235.6 704.8L235.7 704.2L235.8 703.6L235.9 703.0L236.0 702.4L236.1 701.8L236.2 701.1L236.2 700.5L236.3 699.8L236.4 699.2L236.5 698.6L236.6 698.0L236.7 697.4L236.8 696.8L236.9 696.1L237.0 695.5L237.1 694.8L237.2 694.2L237.4 693.6L237.5 693.0L237.6 692.3L237.7 691.7L237.8 691.2L237.9 690.6L238.0 690.0L238.1 689.5L238.2 688.8L238.4 688.0L238.6 687.3L238.7 686.7L238.9 686.0L239.0 685.5L239.2 685.0L239.3 684.5L239.8 683.5L240.2 682.9L240.6 682.7L241.0 682.9L241.4 683.5L241.8 684.4L241.9 684.8L242.1 685.3L242.2 685.9L242.4 686.5L242.5 687.1L242.7 687.8L242.8 688.5L243.0 689.2L243.1 689.7L243.2 690.3L243.3 690.9L243.4 691.5L243.5 692.2L243.6 692.8L243.7 693.5L243.8 694.1L243.9 694.8L244.0 695.4L244.2 696.1L244.3 696.7L244.4 697.4L244.5 698.0L244.6 698.6L244.7 699.3L244.8 700.0L244.8 700.6L244.9 701.3L245.0 701.9L245.1 702.5L245.2 703.2L245.3 703.8L245.5 704.5L245.6 705.1L245.7 705.8L245.8 706.4L245.9 707.1L246.0 707.7L246.1 708.4L246.2 709.0L246.3 709.6L246.4 710.2L246.5 710.7L246.7 711.4L246.8 712.1L247.0 712.8L247.1 713.4L247.3 714.0L247.4 714.6L247.6 715.1L247.7 715.5L248.1 716.4L248.5 717.0L248.9 717.2L249.4 717.0L249.9 716.4L250.5 715.4L250.7 714.9L250.9 714.4L251.1 713.8L251.3 713.2L251.5 712.6L251.6 711.9L251.8 711.1L252.0 710.4L252.2 709.8L252.3 709.3L252.4 708.7L252.6 708.1L252.7 707.5L252.8 706.9L253.0 706.3L253.1 705.7L253.2 705.0L253.4 704.4L253.5 703.7L253.6 703.1L253.7 702.5L253.9 701.9L254.0 701.3L254.1 700.6L254.2 700.0L254.3 699.4L254.5 698.7L254.6 698.1L254.7 697.5L254.8 696.8L254.9 696.2L255.1 695.6L255.2 695.0L255.3 694.4L255.4 693.7L255.6 693.1L255.7 692.4L255.8 691.8L256.0 691.2L256.1 690.6L256.2 690.0L256.4 689.4L256.5 688.8L256.6 688.3L256.8 687.7L257.0 687.0L257.1 686.2L257.3 685.5L257.5 684.9L257.7 684.3L257.9 683.7L258.1 683.2L258.3 682.7L258.9 681.7L259.4 681.1L259.9 680.9L260.4 681.1L260.9 681.7L261.5 682.6L261.7 683.1L261.9 683.6L262.1 684.1L262.3 684.7L262.5 685.3L262.6 686.0L262.8 686.7L263.0 687.4L263.2 688.0L263.3 688.6L263.5 689.2L263.6 689.8L263.8 690.4L263.9 691.1L264.0 691.7L264.2 692.4L264.3 693.0L264.5 693.7L264.6 694.4L264.7 695.0L264.9 695.5L265.0 696.1L265.1 696.7L265.2 697.3L265.3 697.9L265.5 698.6L265.6 699.2L265.7 699.8L265.8 700.4L265.9 701.0L266.1 701.5L266.2 702.1L266.3 702.8L266.5 703.5L266.6 704.1L266.8 704.8L266.9 705.4L267.0 706.1L267.2 706.7L267.3 707.3L267.5 707.9L267.6 708.5L267.8 709.1L268.0 709.8L268.1 710.5L268.3 711.2L268.5 711.8L268.7 712.4L268.9 712.9L269.1 713.4L269.3 713.9L269.8 714.8L270.4 715.4L270.9 715.6L271.3 715.5L271.8 715.1L272.2 714.6L272.7 713.8L272.9 713.3L273.1 712.8L273.3 712.3L273.6 711.6L273.8 711.0L274.0 710.3L274.2 709.5L274.4 708.8L274.6 708.3L274.7 707.7L274.9 707.1L275.0 706.6L275.2 706.0L275.3 705.3L275.5 704.7L275.6 704.1L275.8 703.5L275.9 702.8L276.1 702.2L276.2 701.5L276.4 700.9L276.5 700.3L276.6 699.7L276.8 699.1L276.9 698.5L277.0 697.8L277.2 697.2L277.3 696.5L277.4 695.9L277.6 695.3L277.7 694.7L277.8 694.1L278.0 693.5L278.1 692.8L278.3 692.2L278.4 691.5L278.6 690.9L278.7 690.3L278.9 689.7L279.0 689.0L279.2 688.4L279.3 687.9L279.5 687.3L279.6 686.7L279.8 686.2L280.0 685.5L280.2 684.7L280.4 684.0L280.6 683.4L280.9 682.7L281.1 682.2L281.3 681.7L281.5 681.2L282.0 680.4L282.4 679.9L282.9 679.5L283.3 679.4L283.8 679.5L284.2 679.9L284.7 680.4L285.2 681.2L285.4 681.6L285.6 682.1L285.9 682.7L286.1 683.3L286.3 683.9L286.6 684.6L286.8 685.4L287.0 686.1L287.2 686.6L287.3 687.2L287.5 687.7L287.6 688.3L287.8 688.9L287.9 689.5L288.1 690.1L288.3 690.7L288.4 691.3L288.6 692.0L288.7 692.6L288.9 693.2L289.0 693.8L289.2 694.4L289.3 695.0L289.4 695.6L289.6 696.3L289.7 696.9L289.9 697.5L290.0 698.1L290.2 698.8L290.3 699.4L290.4 700.0L290.6 700.6L290.7 701.2L290.9 701.8L291.0 702.4L291.2 703.1L291.3 703.7L291.5 704.3L291.7 704.9L291.8 705.5L292.0 706.1L292.1 706.7L292.3 707.2L292.4 707.8L292.6 708.3L292.8 709.0L293.1 709.8L293.3 710.5L293.5 711.1L293.7 711.7L294.0 712.3L294.2 712.8L294.4 713.2L294.9 714.0L295.4 714.5L295.9 714.8L296.3 715.0L297.0 714.9L297.7 714.3L298.1 714.0L298.4 713.5L298.8 713.0L299.2 712.3L299.4 711.8L299.7 711.2L300.0 710.6L300.3 709.9L300.6 709.2L300.8 708.6L301.0 708.0L301.2 707.5L301.4 706.8L301.6 706.2L301.8 705.6L302.0 704.9L302.2 704.3L302.4 703.7L302.6 703.1L302.7 702.5L302.9 701.8L303.1 701.2L303.3 700.5L303.4 699.8L303.6 699.2L303.8 698.6L303.9 698.0L304.1 697.4L304.2 696.7L304.4 696.1L304.6 695.5L304.7 694.8L304.9 694.2L305.0 693.6L305.2 692.9L305.3 692.2L305.5 691.5L305.7 690.8L305.8 690.2L306.0 689.6L306.1 689.0L306.2 688.6L306.3 688.2" fill="none" stroke="#0ac864" stroke-width="1.50" stroke-linejoin="round" stroke-linecap="round" />
<path d="M311.2 681.3C311.6 680.9 312.5 678.5 313.4 678.8C314.3 679.1 315.6 680.3 316.8 683.1C318.0 685.9 319.2 691.5 320.4 695.5C321.6 699.5 322.9 704.1 324.1 707.1C325.3 710.1 326.7 712.2 327.7 713.5C328.7 714.8 329.4 715.0 330.1 715.0C330.8 715.0 331.7 713.8 332.0 713.5" fill="none" stroke="#0ac864" stroke-width="1.50" stroke-linejoin="round" stroke-linecap="round" />
<path d="M392.3 678.2C392.9 679.1 394.6 681.2 396.0 683.5C397.4 685.8 399.1 689.3 400.5 692.0C401.9 694.7 404.0 698.2 404.7 699.5" fill="none" stroke="#0ac864" stroke-width="1.50" stroke-linejoin="round" stroke-linecap="round" />
<path d="M112.3 893.9C112.6 894.2 113.4 895.6 114.0 895.5C114.6 895.4 115.3 893.5 116.0 893.5C116.7 893.5 117.3 895.4 118.0 895.5C118.7 895.6 119.2 894.0 120.0 894.0C120.8 894.0 121.8 895.4 123.0 895.5C124.2 895.6 126.1 894.9 126.9 894.5C127.7 894.1 127.7 893.2 127.9 893.0" fill="none" stroke="#0a64d2" stroke-width="1.50" stroke-linejoin="round" stroke-linecap="round" />
<path d="M127.9 893.0L128.6 800.0L129.2 670.5L129.9 800.0L130.6 890.0L131.3 892.6" fill="none" stroke="#0a64d2" stroke-width="1.70" stroke-linejoin="round" stroke-linecap="round" />
<path d="M131.3 892.6L131.7 892.5L132.2 892.4L132.9 892.1L133.5 891.7L134.2 891.0L134.5 890.6L134.7 890.2L135.0 889.8L135.3 889.3L135.5 888.8L135.8 888.3L136.1 887.7L136.4 887.1L136.7 886.5L136.9 885.8L137.2 885.1L137.5 884.4L137.8 883.6L138.0 883.1L138.1 882.6L138.3 882.1L138.5 881.6L138.6 881.1L138.8 880.5L139.0 880.0L139.1 879.4L139.3 878.8L139.5 878.2L139.7 877.6L139.8 877.0L140.0 876.3L140.2 875.7L140.3 875.1L140.5 874.4L140.7 873.8L140.8 873.1L141.0 872.5L141.2 871.8L141.3 871.2L141.5 870.5L141.6 870.0L141.8 869.4L141.9 868.8L142.0 868.2L142.2 867.7L142.3 867.1L142.5 866.5L142.6 865.8L142.7 865.2L142.9 864.6L143.0 864.0L143.1 863.4L143.3 862.7L143.4 862.1L143.5 861.5L143.7 860.9L143.8 860.2L143.9 859.6L144.1 859.0L144.2 858.4L144.3 857.8L144.5 857.2L144.6 856.7L144.7 856.1L144.9 855.6L145.0 855.0L145.1 854.5L145.3 853.8L145.4 853.1L145.6 852.5L145.7 851.9L145.9 851.2L146.0 850.6L146.2 850.0L146.3 849.4L146.5 848.9L146.6 848.3L146.8 847.7L146.9 847.2L147.1 846.6L147.2 846.1L147.4 845.5L147.5 845.0L147.7 844.4L147.8 843.9L148.0 843.3L148.1 842.8L148.3 842.2L148.4 841.6L148.6 841.0L148.8 840.4L149.0 839.8L149.1 839.2L149.3 838.7L149.5 838.1L149.6 837.6L149.8 837.0L150.0 836.4L150.2 835.8L150.3 835.2L150.5 834.6L150.7 834.0L150.8 833.3L151.0 832.6L151.1 832.1L151.3 831.5L151.4 830.9L151.5 830.2L151.6 829.6L151.8 828.9L151.9 828.2L152.0 827.5L152.2 826.9L152.3 826.2L152.4 825.5L152.6 824.8L152.7 824.1L152.8 823.4L152.9 822.8L153.1 822.1L153.2 821.5L153.3 821.0L153.4 820.4L153.6 819.9L153.7 819.5L153.8 819.1L153.9 818.7L154.5 817.6L155.0 817.7L155.6 817.8L156.1 817.2L156.2 816.8L156.4 816.4L156.5 815.9L156.7 815.3L156.8 814.7L156.9 814.0L157.1 813.4L157.2 812.7L157.4 812.0L157.5 811.3L157.6 810.6L157.8 810.0L157.9 809.3L158.0 808.7L158.2 808.2L158.3 807.7L158.5 806.9L158.7 806.2L159.0 805.5L159.2 804.8L159.4 804.2L159.6 803.7L159.8 803.2L160.0 802.9L160.2 802.6L160.8 802.4L161.3 802.8L161.8 803.5L162.1 804.1L162.4 805.0L162.7 805.8L163.0 806.4L163.4 806.3L163.6 806.0L163.7 805.6L163.9 805.1L164.1 804.5L164.3 803.8L164.5 803.1L164.7 802.4L164.9 801.6L165.1 800.9L165.2 800.2L165.4 799.5L165.6 799.0L165.9 798.3L166.1 797.5L166.4 796.8L166.7 796.2L166.9 795.6L167.2 795.1L167.4 794.6L167.5 794.3L167.5 794.3L167.7 795.0L168.0 795.9L168.2 796.7L168.5 797.5L168.8 798.2L169.0 798.9L169.2 799.5L169.5 800.0L169.8 800.5L170.0 800.9L170.2 801.2L170.5 801.4L170.7 801.6L171.0 801.6L171.3 801.4L171.7 801.1L172.0 800.4L172.4 799.5L172.6 798.9L172.8 798.1L173.1 797.4L173.2 796.8L173.4 796.1L173.6 795.5L173.7 794.9L174.0 794.2L174.2 793.4L174.4 792.8L174.8 791.9L175.1 791.2L175.5 790.8L175.8 790.7L176.1 790.8L176.5 791.1L176.8 791.7L177.1 792.4L177.4 792.9L177.6 793.6L177.8 794.2L178.0 794.9L178.3 795.5L178.5 796.2L178.7 796.8L178.9 797.5L179.2 798.0L179.5 798.7L179.8 799.3L180.2 799.6L180.5 799.7L180.8 799.6L181.2 799.2L181.5 798.6L181.9 797.8L182.1 797.2L182.3 796.5L182.6 795.7L182.8 795.0L183.0 794.2L183.2 793.5L183.5 792.7L183.7 792.0L183.9 791.4L184.3 790.6L184.6 790.0L185.0 789.6L185.3 789.5L185.7 789.6L186.0 789.9L186.4 790.5L186.8 791.1L187.0 791.7L187.2 792.3L187.5 792.9L187.7 793.5L188.0 794.2L188.2 794.8L188.5 795.4L188.7 796.0L188.9 796.6L189.3 797.2L189.7 797.8L190.0 798.1L190.4 798.2L190.8 798.1L191.2 797.7L191.6 797.2L191.9 796.4L192.2 795.9L192.5 795.2L192.7 794.5L193.0 793.9L193.2 793.1L193.5 792.5L193.7 791.8L194.0 791.1L194.3 790.6L194.6 789.8L195.0 789.3L195.4 788.9L195.8 788.8L196.2 788.9L196.7 789.3L197.1 789.9L197.5 790.7L197.8 791.3L198.1 792.0L198.4 792.8L198.6 793.3L198.8 793.9L199.0 794.5L199.2 795.0L199.5 795.8L199.8 796.5L200.1 797.1L200.5 797.9L200.9 798.5L201.4 798.9L201.8 799.0L202.3 798.9L202.7 798.5L203.2 798.0L203.6 797.2L203.9 796.6L204.2 796.0L204.5 795.3L204.8 794.6L205.2 793.9L205.5 793.2L205.8 792.5L206.1 791.9L206.4 791.3L206.8 790.5L207.3 790.0L207.7 789.6L208.2 789.5L208.7 789.5L209.1 789.7L209.6 790.1L210.1 790.5L210.6 791.0L211.0 791.6L211.3 792.1L211.7 792.6L212.0 793.2L212.3 793.8L212.6 794.4L212.9 795.0L213.2 795.7L213.5 796.4L213.9 797.1L214.2 797.9L214.6 798.7L214.8 799.3L214.8 799.3L215.0 798.9L215.3 798.4L215.6 797.8L215.9 797.1L216.3 796.5L216.7 795.8L217.0 795.1L217.4 794.6L217.8 794.1L218.2 793.6L218.7 793.1L219.1 792.7L219.5 792.3L220.0 791.9L220.4 791.5L221.0 791.0L221.7 790.5L222.3 790.1L222.8 789.8L223.2 789.5L223.2 789.5L223.4 789.9L223.7 790.5L224.1 791.1L224.4 791.7L224.8 792.4L225.2 793.0L225.6 793.7L226.0 794.3L226.4 795.0L226.8 795.5L227.2 796.1L227.5 796.6L227.9 797.1L228.5 797.7L229.1 798.2L229.7 798.7L230.3 799.0L230.9 799.2L231.5 799.2L232.1 799.0L232.7 798.7L233.1 798.3L233.5 797.8L233.9 797.2L234.2 796.8L234.5 796.3L234.8 795.7L235.1 795.2L235.4 794.6L235.8 794.0L236.1 793.4L236.4 792.8L236.7 792.3L237.0 791.7L237.3 791.2L237.6 790.8L238.0 790.2L238.4 789.7L238.8 789.3L239.4 788.9L240.0 788.8L240.6 788.9L241.3 789.3L241.7 789.6L242.1 790.1L242.6 790.6L243.0 791.2L243.4 791.9L243.9 792.5L244.2 793.1L244.5 793.6L244.8 794.1L245.1 794.7L245.6 795.3L246.0 796.0L246.4 796.6L246.9 797.1L247.3 797.6L247.7 797.9L248.3 798.3L249.0 798.4L249.7 798.2L250.5 797.8L251.0 797.4L251.5 796.8L252.0 796.2L252.4 795.7L252.8 795.1L253.1 794.5L253.5 793.9L253.8 793.3L254.1 792.8L254.4 792.3L254.7 791.8L255.0 791.2L255.4 790.6L255.8 790.0L256.1 789.4L256.5 788.9L257.0 788.3L257.5 787.7L258.0 787.3L258.7 786.9L259.5 786.7L260.3 786.8L261.1 787.2L261.6 787.6L262.1 788.1L262.6 788.7L263.0 789.2L263.4 789.7L263.8 790.3L264.2 790.8L264.6 791.4L264.9 792.0L265.3 792.6L265.7 793.2L266.1 793.7L266.5 794.3L266.9 794.8L267.3 795.3L267.8 795.9L268.3 796.4L268.8 796.8L269.6 797.2L270.4 797.3L271.0 797.2L271.6 797.0L272.2 796.7L272.6 796.4L273.1 795.9L273.5 795.5L273.9 795.0L274.3 794.5L274.7 794.0L275.0 793.5L275.4 793.0L275.7 792.5L276.1 791.9L276.4 791.4L276.8 790.8L277.1 790.3L277.5 789.7L277.8 789.2L278.2 788.7L278.5 788.2L278.9 787.7L279.3 787.2L279.7 786.7L280.1 786.3L280.6 785.8L281.0 785.5L281.6 785.2L282.2 785.0L282.8 784.9L283.4 785.0L284.1 785.1L284.7 785.4L285.3 785.8L286.0 786.3L286.6 786.8L287.1 787.3L287.6 787.8L288.0 788.3L288.5 788.8L289.0 789.4L289.5 789.9L289.9 790.5L290.4 791.1L290.9 791.6L291.4 792.1L291.8 792.6L292.3 793.1L292.9 793.6L293.6 794.1L294.2 794.5L294.8 794.8L295.5 794.9L296.1 795.0L296.9 794.9L297.6 794.7L298.3 794.4L299.0 793.9L299.5 793.6L300.0 793.1L300.5 792.7L301.0 792.1L301.5 791.6L302.0 791.0L302.4 790.5L302.7 790.0L303.1 789.5L303.5 788.9L303.8 788.4L304.2 787.8L304.6 787.3L304.9 786.7L305.3 786.0L305.8 785.3L306.1 784.7L306.4 784.3" fill="none" stroke="#0a64d2" stroke-width="1.50" stroke-linejoin="round" stroke-linecap="round" />
<path d="M311.2 780.1C311.9 780.0 313.6 778.8 315.3 779.7C317.0 780.6 319.2 783.8 321.5 785.3C323.8 786.8 326.4 789.2 328.8 789.0C331.2 788.8 333.6 786.6 336.0 784.3C338.4 782.0 341.0 777.1 343.2 775.0C345.4 772.9 347.3 772.0 349.4 771.9C351.5 771.8 353.4 773.1 355.6 774.5C357.9 775.9 360.7 778.8 362.9 780.1C365.1 781.4 366.6 782.4 368.7 782.2C370.8 782.0 372.8 781.3 375.3 779.1C377.8 776.9 381.2 771.6 383.6 768.8C386.0 766.0 387.9 763.5 389.8 762.1C391.7 760.7 393.2 760.6 394.9 760.5C396.6 760.4 398.5 760.9 400.1 761.5C401.7 762.1 403.9 763.6 404.7 764.0" fill="none" stroke="#0a64d2" stroke-width="1.50" stroke-linejoin="round" stroke-linecap="round" />
<rect x="111.00" y="662.50" width="294.80" height="235.70" fill="none" stroke="#000" stroke-width="3.00"/>
<line x1="100.30" y1="898.20" x2="111.00" y2="898.20" stroke="#000" stroke-width="2.20" stroke-linecap="butt"/>
<line x1="395.80" y1="898.20" x2="405.80" y2="898.20" stroke="#000" stroke-width="2.20" stroke-linecap="butt"/>
<text transform="translate(93.20 907.70) scale(0.950 1)" font-size="30.39px" text-anchor="end">0</text>
<line x1="100.30" y1="851.06" x2="111.00" y2="851.06" stroke="#000" stroke-width="2.20" stroke-linecap="butt"/>
<line x1="400.30" y1="851.06" x2="405.80" y2="851.06" stroke="#000" stroke-width="2.20" stroke-linecap="butt"/>
<text transform="translate(93.20 860.56) scale(0.950 1)" font-size="30.39px" text-anchor="end">20</text>
<line x1="100.30" y1="803.92" x2="111.00" y2="803.92" stroke="#000" stroke-width="2.20" stroke-linecap="butt"/>
<line x1="395.80" y1="803.92" x2="405.80" y2="803.92" stroke="#000" stroke-width="2.20" stroke-linecap="butt"/>
<text transform="translate(93.20 813.42) scale(0.950 1)" font-size="30.39px" text-anchor="end">40</text>
<line x1="100.30" y1="756.78" x2="111.00" y2="756.78" stroke="#000" stroke-width="2.20" stroke-linecap="butt"/>
<line x1="395.80" y1="756.78" x2="405.80" y2="756.78" stroke="#000" stroke-width="2.20" stroke-linecap="butt"/>
<text transform="translate(93.20 766.28) scale(0.950 1)" font-size="30.39px" text-anchor="end">60</text>
<line x1="100.30" y1="709.64" x2="111.00" y2="709.64" stroke="#000" stroke-width="2.20" stroke-linecap="butt"/>
<line x1="395.80" y1="709.64" x2="405.80" y2="709.64" stroke="#000" stroke-width="2.20" stroke-linecap="butt"/>
<text transform="translate(93.20 719.14) scale(0.950 1)" font-size="30.39px" text-anchor="end">80</text>
<line x1="105.00" y1="662.50" x2="111.00" y2="662.50" stroke="#000" stroke-width="2.20" stroke-linecap="butt"/>
<line x1="395.80" y1="662.50" x2="405.80" y2="662.50" stroke="#000" stroke-width="2.20" stroke-linecap="butt"/>
<text transform="translate(93.20 672.00) scale(0.950 1)" font-size="30.39px" text-anchor="end">100</text>
<line x1="163.00" y1="898.20" x2="163.00" y2="909.40" stroke="#000" stroke-width="2.20" stroke-linecap="butt"/>
<line x1="163.00" y1="662.50" x2="163.00" y2="672.50" stroke="#000" stroke-width="2.20" stroke-linecap="butt"/>
<line x1="232.40" y1="898.20" x2="232.40" y2="909.40" stroke="#000" stroke-width="2.20" stroke-linecap="butt"/>
<line x1="232.40" y1="662.50" x2="232.40" y2="672.50" stroke="#000" stroke-width="2.20" stroke-linecap="butt"/>
<line x1="301.90" y1="898.20" x2="301.90" y2="909.40" stroke="#000" stroke-width="2.20" stroke-linecap="butt"/>
<line x1="301.90" y1="662.50" x2="301.90" y2="672.50" stroke="#000" stroke-width="2.20" stroke-linecap="butt"/>
<line x1="371.20" y1="898.20" x2="371.20" y2="909.40" stroke="#000" stroke-width="2.20" stroke-linecap="butt"/>
<line x1="371.20" y1="662.50" x2="371.20" y2="672.50" stroke="#000" stroke-width="2.20" stroke-linecap="butt"/>
<line x1="128.40" y1="898.20" x2="128.40" y2="904.70" stroke="#000" stroke-width="2.20" stroke-linecap="butt"/>
<line x1="128.40" y1="662.50" x2="128.40" y2="668.00" stroke="#000" stroke-width="2.20" stroke-linecap="butt"/>
<line x1="197.60" y1="898.20" x2="197.60" y2="904.70" stroke="#000" stroke-width="2.20" stroke-linecap="butt"/>
<line x1="197.60" y1="662.50" x2="197.60" y2="668.00" stroke="#000" stroke-width="2.20" stroke-linecap="butt"/>
<line x1="267.10" y1="898.20" x2="267.10" y2="904.70" stroke="#000" stroke-width="2.20" stroke-linecap="butt"/>
<line x1="267.10" y1="662.50" x2="267.10" y2="668.00" stroke="#000" stroke-width="2.20" stroke-linecap="butt"/>
<line x1="336.70" y1="898.20" x2="336.70" y2="904.70" stroke="#000" stroke-width="2.20" stroke-linecap="butt"/>
<line x1="336.70" y1="662.50" x2="336.70" y2="668.00" stroke="#000" stroke-width="2.20" stroke-linecap="butt"/>
<text x="161.80" y="938.2" font-size="30.40px" text-anchor="middle" textLength="48.6" lengthAdjust="spacingAndGlyphs">500</text>
<text x="233.80" y="938.2" font-size="30.40px" text-anchor="middle" textLength="48.6" lengthAdjust="spacingAndGlyphs">700</text>
<text x="301.60" y="938.2" font-size="30.40px" text-anchor="middle" textLength="48.6" lengthAdjust="spacingAndGlyphs">900</text>
<text x="373.00" y="938.2" font-size="30.40px" text-anchor="middle" textLength="62.5" lengthAdjust="spacingAndGlyphs">1000</text>
<text x="259.8" y="977.3" font-size="30.3px" text-anchor="middle" textLength="254" lengthAdjust="spacingAndGlyphs">Wavelenght (nm)</text>
<g transform="translate(23.8 810.6) rotate(-90)"><text x="0" y="0" font-size="32px">T</text><text x="29.3" y="0" font-size="30px" textLength="57.4" lengthAdjust="spacingAndGlyphs">(%)</text></g>
<text x="334.6" y="852.8" font-size="26px" text-anchor="end" textLength="134" lengthAdjust="spacingAndGlyphs">Clear state</text>
<text x="336.4" y="887.8" font-size="26px" text-anchor="end" textLength="183" lengthAdjust="spacingAndGlyphs">Photodarkened</text>
<line x1="344.90" y1="844.00" x2="386.90" y2="844.00" stroke="#4fe02c" stroke-width="2.20" stroke-linecap="butt"/>
<line x1="345.60" y1="879.90" x2="386.90" y2="879.90" stroke="#4084e8" stroke-width="1.90" stroke-linecap="butt"/>
<text x="335.50" y="720.60" font-size="61.00px" text-anchor="start" >d</text>
<text x="371.60" y="720.60" font-size="61.00px" text-anchor="start" >)</text>
<rect x="521.70" y="662.80" width="1.68" height="234.60" fill="#fdf9fe"/>
<rect x="525.10" y="662.80" width="1.39" height="234.60" fill="#fdf9fe"/>
<rect x="529.63" y="662.80" width="1.37" height="234.60" fill="#fdf9fe"/>
<rect x="533.79" y="662.80" width="1.66" height="234.60" fill="#fdf9fe"/>
<rect x="574.40" y="662.80" width="2.19" height="234.60" fill="#fdf9fe"/>
<rect x="578.99" y="662.80" width="2.11" height="234.60" fill="#fdf9fe"/>
<rect x="583.59" y="662.80" width="1.83" height="234.60" fill="#fdf9fe"/>
<rect x="587.92" y="662.80" width="1.41" height="234.60" fill="#fdf9fe"/>
<rect x="630.20" y="662.80" width="2.05" height="234.60" fill="#fdf9fe"/>
<rect x="633.51" y="662.80" width="2.17" height="234.60" fill="#fdf9fe"/>
<rect x="638.38" y="662.80" width="1.74" height="234.60" fill="#fdf9fe"/>
<rect x="642.83" y="662.80" width="1.37" height="234.60" fill="#fdf9fe"/>
<rect x="685.80" y="662.80" width="1.98" height="234.60" fill="#fdf9fe"/>
<rect x="689.52" y="662.80" width="1.98" height="234.60" fill="#fdf9fe"/>
<rect x="693.04" y="662.80" width="1.09" height="234.60" fill="#fdf9fe"/>
<rect x="695.81" y="662.80" width="1.71" height="234.60" fill="#fdf9fe"/>
<rect x="699.16" y="662.80" width="1.20" height="234.60" fill="#fdf9fe"/>
<rect x="741.00" y="662.80" width="1.97" height="234.60" fill="#fdf9fe"/>
<rect x="745.54" y="662.80" width="2.06" height="234.60" fill="#fdf9fe"/>
<rect x="749.18" y="662.80" width="1.32" height="234.60" fill="#fdf9fe"/>
<rect x="752.80" y="662.80" width="1.26" height="234.60" fill="#fdf9fe"/>
<rect x="755.46" y="662.80" width="1.01" height="234.60" fill="#fdf9fe"/>
<rect x="796.60" y="662.80" width="1.60" height="234.60" fill="#fdf9fe"/>
<rect x="801.35" y="662.80" width="1.22" height="234.60" fill="#fdf9fe"/>
<rect x="805.00" y="662.80" width="1.85" height="234.60" fill="#fdf9fe"/>
<rect x="535.80" y="662.80" width="37.60" height="234.60" fill="#f4e4fa"/>
<rect x="591.50" y="662.80" width="37.70" height="234.60" fill="#f4e4fa"/>
<rect x="646.60" y="662.80" width="38.20" height="234.60" fill="#f4e4fa"/>
<rect x="702.20" y="662.80" width="37.80" height="234.60" fill="#f4e4fa"/>
<rect x="757.80" y="662.80" width="37.80" height="234.60" fill="#f4e4fa"/>
<path d="M519.5 712.3C519.6 715.2 519.8 728.5 520.0 733.7C520.2 738.9 520.6 747.1 521.0 751.2C521.4 755.3 522.3 761.4 523.0 764.8C523.7 768.2 525.2 773.6 526.3 776.5C527.4 779.4 529.7 784.0 531.1 786.3C532.5 788.6 536.2 793.0 537.0 794.0C537.1 793.0 537.8 791.0 538.0 786.3C538.2 781.6 538.3 765.5 538.5 759.0C538.7 752.5 539.1 742.1 539.5 737.6C539.9 733.1 540.7 727.4 541.3 724.9C541.9 722.4 542.9 720.3 543.8 719.1C544.7 717.9 546.3 716.8 547.7 716.2C549.1 715.6 552.3 714.8 554.5 714.4C556.7 714.0 561.6 713.7 564.2 713.5C566.8 713.3 572.7 713.0 574.0 712.9C574.1 714.9 574.3 722.8 574.5 727.9C574.7 733.0 575.2 745.8 575.5 751.2C575.8 756.6 576.4 764.5 576.9 768.7C577.4 772.9 578.6 779.4 579.4 782.4C580.2 785.4 581.6 789.0 582.7 791.1C583.8 793.2 586.3 796.5 587.6 797.9C588.9 799.3 591.8 801.3 592.5 801.8C592.6 799.7 593.1 792.0 593.4 786.3C593.7 780.6 594.1 765.8 594.4 759.0C594.7 752.2 595.3 740.4 595.8 735.6C596.3 730.8 597.4 725.7 598.3 723.0C599.2 720.3 601.2 716.7 602.2 715.2C603.2 713.7 605.1 712.5 606.1 711.9C607.1 711.3 608.7 710.8 609.4 710.7C610.1 710.6 609.5 711.3 611.0 711.5C612.5 711.7 618.3 711.8 620.7 711.9C623.1 712.0 627.9 712.1 629.0 712.1C629.1 714.7 629.6 725.0 629.8 731.8C630.0 738.6 630.3 756.2 630.8 762.9C631.3 769.6 632.6 778.3 633.3 782.4C634.0 786.5 635.3 791.3 636.3 794.0C637.3 796.7 639.6 800.9 641.1 802.8C642.6 804.7 647.0 807.3 647.9 808.0C648.0 807.2 648.6 806.9 648.9 801.8C649.2 796.7 650.0 777.1 650.4 770.0C650.8 762.9 651.5 753.1 652.1 748.3C652.7 743.5 653.8 736.7 654.6 733.7C655.4 730.7 657.1 727.2 658.4 725.7C659.7 724.2 662.9 723.0 664.6 722.2C666.3 721.4 669.6 720.1 670.9 719.7C672.2 719.3 673.3 719.4 674.0 719.2C674.7 719.0 675.5 718.0 676.0 718.0C676.5 718.0 677.5 719.1 678.0 719.0C678.5 718.9 679.5 717.5 680.0 717.4C680.5 717.3 681.4 718.3 682.0 718.2C682.6 718.1 684.2 717.2 684.5 717.0C684.6 719.2 685.0 727.0 685.2 733.7C685.4 740.4 685.6 760.2 686.0 767.2C686.4 774.2 687.3 781.8 688.1 786.0C688.9 790.2 690.6 795.7 691.9 798.6C693.2 801.5 696.6 805.9 698.1 808.0C699.6 810.1 702.7 813.5 703.4 814.3C703.5 811.9 704.0 802.8 704.4 796.5C704.8 790.2 705.5 773.6 706.1 767.2C706.7 760.8 707.9 752.2 708.6 748.3C709.3 744.4 710.6 740.4 711.7 737.9C712.8 735.4 715.5 731.2 717.0 729.5C718.5 727.8 721.3 726.2 723.2 725.3C725.1 724.4 729.3 723.2 731.6 722.6C733.9 722.0 739.2 721.3 740.4 721.1C740.5 723.3 740.8 731.2 741.0 737.9C741.2 744.6 741.6 764.1 742.1 771.4C742.6 778.7 743.8 788.0 744.6 792.3C745.4 796.6 747.1 801.3 748.3 803.8C749.5 806.3 752.2 809.6 753.6 811.1C755.0 812.6 758.1 814.7 758.8 815.3C758.9 813.4 759.5 806.6 759.9 800.7C760.3 794.8 761.2 778.1 761.9 771.4C762.6 764.7 764.1 754.9 765.1 750.4C766.1 745.9 767.9 740.8 769.3 737.9C770.7 735.0 773.6 730.5 775.5 728.5C777.4 726.5 781.2 724.4 783.9 723.2C786.6 722.0 794.2 720.0 795.8 719.5C795.9 722.0 796.3 731.5 796.5 737.9C796.7 744.3 797.1 760.5 797.5 767.2C797.9 773.9 798.9 783.6 799.6 788.1C800.3 792.6 801.7 797.9 802.7 800.7C803.7 803.5 805.8 807.4 806.9 809.0C808.0 810.6 810.2 812.3 810.7 812.8" fill="none" stroke="#0a64d2" stroke-width="1.5" stroke-linejoin="miter" stroke-miterlimit="3" stroke-linecap="round"/>
<rect x="646.8" y="839.9" width="147.5" height="52.5" fill="#fff" stroke="#444" stroke-width="1.1"/>
<rect x="758" y="852.7" width="32" height="27" fill="#f0e0fa"/>
<text x="652.0" y="875.4" font-size="26px" textLength="100.5" lengthAdjust="spacingAndGlyphs">Laser Off</text>
<rect x="519.20" y="662.80" width="292.60" height="234.60" fill="none" stroke="#000" stroke-width="3.00"/>
<line x1="508.20" y1="897.40" x2="519.20" y2="897.40" stroke="#000" stroke-width="2.20" stroke-linecap="butt"/>
<line x1="800.80" y1="897.40" x2="811.80" y2="897.40" stroke="#000" stroke-width="2.20" stroke-linecap="butt"/>
<text transform="translate(501.30 906.90) scale(0.950 1)" font-size="30.39px" text-anchor="end">0</text>
<line x1="508.20" y1="850.48" x2="519.20" y2="850.48" stroke="#000" stroke-width="2.20" stroke-linecap="butt"/>
<line x1="805.60" y1="850.48" x2="811.80" y2="850.48" stroke="#000" stroke-width="2.20" stroke-linecap="butt"/>
<text transform="translate(501.30 859.98) scale(0.950 1)" font-size="30.39px" text-anchor="end">20</text>
<line x1="508.20" y1="803.56" x2="519.20" y2="803.56" stroke="#000" stroke-width="2.20" stroke-linecap="butt"/>
<line x1="800.80" y1="803.56" x2="811.80" y2="803.56" stroke="#000" stroke-width="2.20" stroke-linecap="butt"/>
<text transform="translate(501.30 813.06) scale(0.950 1)" font-size="30.39px" text-anchor="end">40</text>
<line x1="508.20" y1="756.64" x2="519.20" y2="756.64" stroke="#000" stroke-width="2.20" stroke-linecap="butt"/>
<line x1="800.80" y1="756.64" x2="811.80" y2="756.64" stroke="#000" stroke-width="2.20" stroke-linecap="butt"/>
<text transform="translate(501.30 766.14) scale(0.950 1)" font-size="30.39px" text-anchor="end">60</text>
<line x1="508.20" y1="709.72" x2="519.20" y2="709.72" stroke="#000" stroke-width="2.20" stroke-linecap="butt"/>
<line x1="800.80" y1="709.72" x2="811.80" y2="709.72" stroke="#000" stroke-width="2.20" stroke-linecap="butt"/>
<text transform="translate(501.30 719.22) scale(0.950 1)" font-size="30.39px" text-anchor="end">80</text>
<line x1="512.70" y1="662.80" x2="519.20" y2="662.80" stroke="#000" stroke-width="2.20" stroke-linecap="butt"/>
<line x1="800.80" y1="662.80" x2="811.80" y2="662.80" stroke="#000" stroke-width="2.20" stroke-linecap="butt"/>
<text transform="translate(501.30 672.30) scale(0.950 1)" font-size="30.39px" text-anchor="end">100</text>
<line x1="573.60" y1="897.40" x2="573.60" y2="908.60" stroke="#000" stroke-width="2.20" stroke-linecap="butt"/>
<line x1="573.60" y1="662.80" x2="573.60" y2="672.80" stroke="#000" stroke-width="2.20" stroke-linecap="butt"/>
<line x1="629.20" y1="897.40" x2="629.20" y2="908.60" stroke="#000" stroke-width="2.20" stroke-linecap="butt"/>
<line x1="629.20" y1="662.80" x2="629.20" y2="672.80" stroke="#000" stroke-width="2.20" stroke-linecap="butt"/>
<line x1="684.80" y1="897.40" x2="684.80" y2="908.60" stroke="#000" stroke-width="2.20" stroke-linecap="butt"/>
<line x1="684.80" y1="662.80" x2="684.80" y2="672.80" stroke="#000" stroke-width="2.20" stroke-linecap="butt"/>
<line x1="740.10" y1="897.40" x2="740.10" y2="908.60" stroke="#000" stroke-width="2.20" stroke-linecap="butt"/>
<line x1="740.10" y1="662.80" x2="740.10" y2="672.80" stroke="#000" stroke-width="2.20" stroke-linecap="butt"/>
<line x1="795.80" y1="897.40" x2="795.80" y2="908.60" stroke="#000" stroke-width="2.20" stroke-linecap="butt"/>
<line x1="795.80" y1="662.80" x2="795.80" y2="672.80" stroke="#000" stroke-width="2.20" stroke-linecap="butt"/>
<line x1="535.30" y1="897.40" x2="535.30" y2="903.70" stroke="#000" stroke-width="2.20" stroke-linecap="butt"/>
<line x1="535.30" y1="662.80" x2="535.30" y2="668.30" stroke="#000" stroke-width="2.20" stroke-linecap="butt"/>
<line x1="590.90" y1="897.40" x2="590.90" y2="903.70" stroke="#000" stroke-width="2.20" stroke-linecap="butt"/>
<line x1="590.90" y1="662.80" x2="590.90" y2="668.30" stroke="#000" stroke-width="2.20" stroke-linecap="butt"/>
<line x1="646.10" y1="897.40" x2="646.10" y2="903.70" stroke="#000" stroke-width="2.20" stroke-linecap="butt"/>
<line x1="646.10" y1="662.80" x2="646.10" y2="668.30" stroke="#000" stroke-width="2.20" stroke-linecap="butt"/>
<line x1="701.70" y1="897.40" x2="701.70" y2="903.70" stroke="#000" stroke-width="2.20" stroke-linecap="butt"/>
<line x1="701.70" y1="662.80" x2="701.70" y2="668.30" stroke="#000" stroke-width="2.20" stroke-linecap="butt"/>
<line x1="757.50" y1="897.40" x2="757.50" y2="903.70" stroke="#000" stroke-width="2.20" stroke-linecap="butt"/>
<line x1="757.50" y1="662.80" x2="757.50" y2="668.30" stroke="#000" stroke-width="2.20" stroke-linecap="butt"/>
<text x="519.50" y="938.3" font-size="30.40px" text-anchor="middle" textLength="16.3" lengthAdjust="spacingAndGlyphs">0</text>
<text x="592.00" y="938.3" font-size="30.40px" text-anchor="middle" textLength="16.3" lengthAdjust="spacingAndGlyphs">4</text>
<text x="665.70" y="938.3" font-size="30.40px" text-anchor="middle" textLength="16.3" lengthAdjust="spacingAndGlyphs">8</text>
<text x="734.00" y="938.3" font-size="30.40px" text-anchor="middle" textLength="33.0" lengthAdjust="spacingAndGlyphs">12</text>
<text x="807.20" y="938.3" font-size="30.40px" text-anchor="middle" textLength="33.0" lengthAdjust="spacingAndGlyphs">16</text>
<text x="665" y="976.5" font-size="30.3px" text-anchor="middle" textLength="126" lengthAdjust="spacingAndGlyphs">Time (h)</text>
<g transform="translate(445.8 811.0) rotate(-90)"><text x="0" y="0" font-size="32px">T</text><text x="19.8" y="0" font-size="24.5px">vis</text><text x="59.1" y="0" font-size="30px" textLength="57.6" lengthAdjust="spacingAndGlyphs">(%)</text></g>
<text x="743.80" y="720.20" font-size="61.00px" text-anchor="start" >e</text>
<text x="780.60" y="720.20" font-size="61.00px" text-anchor="start" >)</text>
</svg>
</body></html>
